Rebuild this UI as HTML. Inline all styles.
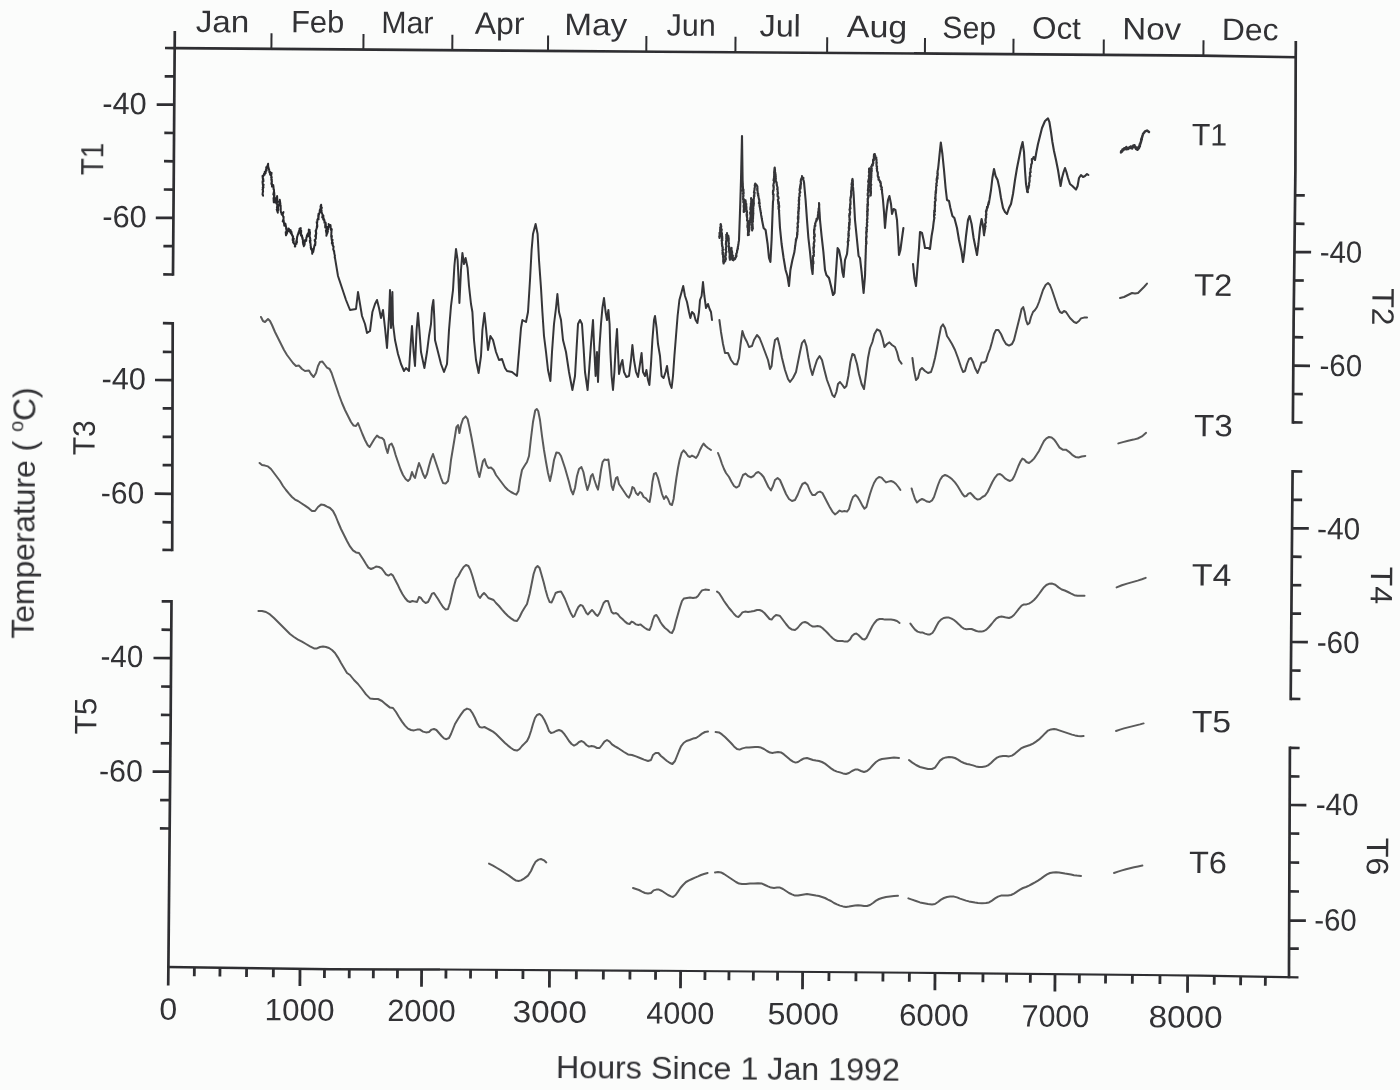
<!DOCTYPE html>
<html lang="en"><head><meta charset="utf-8"><title>Temperature records T1-T6, 1992</title>
<style>
html,body{margin:0;padding:0;background:#fbfcfb;}
body{width:1400px;height:1090px;overflow:hidden;}
svg{display:block;}
svg text{font-family:"Liberation Sans",sans-serif;fill:#333336;}
</style></head>
<body>
<svg width="1400" height="1090" viewBox="0 0 1400 1090">
<rect width="1400" height="1090" fill="#fbfcfb"/>
<defs><filter id="soft" x="-2%" y="-2%" width="104%" height="104%"><feGaussianBlur stdDeviation="0.45"/></filter></defs>
<g filter="url(#soft)">
<g id="axes">
<path d="M165.0 48.0 L175.0 48.1 L540.0 50.9 L940.0 53.6 L1200.0 55.6 L1297.0 57.3" fill="none" stroke="#2e2e30" stroke-width="2.6" stroke-linejoin="miter"/>
<path d="M167.2 967.0 L330.0 969.2 L440.0 969.5" fill="none" stroke="#2e2e30" stroke-width="2.5" stroke-linejoin="miter"/>
<path d="M440.0 969.5 L690.0 971.0 L950.0 973.1 L1200.0 975.6 L1298.5 977.4" fill="none" stroke="#2e2e30" stroke-width="2.1" stroke-linejoin="miter"/>
<path d="M174.8 31.0 L174.7 48.0 L174.6 57.0 L173.8 170.0 L173.0 274.0 L173.0 275.8" fill="none" stroke="#2e2e30" stroke-width="2.7" stroke-linejoin="miter"/>
<path d="M172.7 322.0 L172.7 323.0 L172.7 325.0 L172.5 422.0 L172.4 471.0 L172.2 550.0 L172.2 551.3" fill="none" stroke="#2e2e30" stroke-width="2.7" stroke-linejoin="miter"/>
<path d="M171.5 600.1 L171.5 601.0 L170.8 699.0 L170.6 730.0 L170.4 748.0 L168.4 967.0 L168.3 977.0 L168.2 985.5" fill="none" stroke="#2e2e30" stroke-width="2.7" stroke-linejoin="miter"/>
<path d="M1295.8 41.0 L1295.8 48.0 L1295.7 57.0 L1295.4 170.0 L1294.2 274.0 L1293.6 323.0 L1293.6 325.0 L1292.9 422.0 L1292.9 423.7" fill="none" stroke="#2e2e30" stroke-width="2.7" stroke-linejoin="miter"/>
<path d="M1292.6 470.1 L1292.6 471.0 L1291.9 550.0 L1291.5 601.0 L1290.7 699.0 L1290.7 700.2" fill="none" stroke="#2e2e30" stroke-width="2.7" stroke-linejoin="miter"/>
<path d="M1289.9 746.6 L1289.9 748.0 L1289.0 967.0 L1289.0 977.0 L1289.0 978.2" fill="none" stroke="#2e2e30" stroke-width="2.7" stroke-linejoin="miter"/>
<line x1="271.5" y1="33.3" x2="271.4" y2="48.8" stroke="#2e2e30" stroke-width="2.0"/>
<line x1="363.5" y1="34.0" x2="363.4" y2="49.5" stroke="#2e2e30" stroke-width="2.0"/>
<line x1="452.4" y1="34.7" x2="452.3" y2="50.2" stroke="#2e2e30" stroke-width="2.0"/>
<line x1="548.1" y1="35.5" x2="548.0" y2="51.0" stroke="#2e2e30" stroke-width="2.0"/>
<line x1="646.4" y1="36.1" x2="646.3" y2="51.6" stroke="#2e2e30" stroke-width="2.0"/>
<line x1="735.5" y1="36.7" x2="735.4" y2="52.2" stroke="#2e2e30" stroke-width="2.0"/>
<line x1="827.2" y1="37.3" x2="827.1" y2="52.8" stroke="#2e2e30" stroke-width="2.0"/>
<line x1="925.0" y1="38.0" x2="924.9" y2="53.5" stroke="#2e2e30" stroke-width="2.0"/>
<line x1="1013.5" y1="38.7" x2="1013.4" y2="54.2" stroke="#2e2e30" stroke-width="2.0"/>
<line x1="1103.8" y1="39.4" x2="1103.7" y2="54.9" stroke="#2e2e30" stroke-width="2.0"/>
<line x1="1203.5" y1="40.2" x2="1203.4" y2="55.7" stroke="#2e2e30" stroke-width="2.0"/>
<line x1="194.4" y1="967.4" x2="194.3" y2="976.3" stroke="#2e2e30" stroke-width="2.8"/>
<line x1="220.0" y1="967.7" x2="219.9" y2="976.6" stroke="#2e2e30" stroke-width="2.8"/>
<line x1="246.6" y1="968.1" x2="246.5" y2="977.0" stroke="#2e2e30" stroke-width="2.8"/>
<line x1="273.4" y1="968.4" x2="273.3" y2="977.3" stroke="#2e2e30" stroke-width="2.8"/>
<line x1="324.5" y1="969.1" x2="324.4" y2="978.0" stroke="#2e2e30" stroke-width="2.8"/>
<line x1="349.3" y1="969.3" x2="349.2" y2="978.2" stroke="#2e2e30" stroke-width="2.8"/>
<line x1="373.4" y1="969.3" x2="373.3" y2="978.2" stroke="#2e2e30" stroke-width="2.8"/>
<line x1="397.5" y1="969.4" x2="397.4" y2="978.3" stroke="#2e2e30" stroke-width="2.8"/>
<line x1="446.0" y1="969.5" x2="445.9" y2="978.4" stroke="#2e2e30" stroke-width="2.8"/>
<line x1="470.6" y1="969.7" x2="470.5" y2="978.6" stroke="#2e2e30" stroke-width="2.8"/>
<line x1="496.5" y1="969.8" x2="496.4" y2="978.7" stroke="#2e2e30" stroke-width="2.8"/>
<line x1="523.0" y1="970.0" x2="522.9" y2="978.9" stroke="#2e2e30" stroke-width="2.8"/>
<line x1="576.4" y1="970.3" x2="576.3" y2="979.2" stroke="#2e2e30" stroke-width="2.8"/>
<line x1="603.4" y1="970.5" x2="603.3" y2="979.4" stroke="#2e2e30" stroke-width="2.8"/>
<line x1="630.0" y1="970.6" x2="629.9" y2="979.5" stroke="#2e2e30" stroke-width="2.8"/>
<line x1="655.6" y1="970.8" x2="655.5" y2="979.7" stroke="#2e2e30" stroke-width="2.8"/>
<line x1="705.0" y1="971.1" x2="704.9" y2="980.0" stroke="#2e2e30" stroke-width="2.8"/>
<line x1="729.0" y1="971.3" x2="728.9" y2="980.2" stroke="#2e2e30" stroke-width="2.8"/>
<line x1="753.4" y1="971.5" x2="753.3" y2="980.4" stroke="#2e2e30" stroke-width="2.8"/>
<line x1="777.6" y1="971.7" x2="777.5" y2="980.6" stroke="#2e2e30" stroke-width="2.8"/>
<line x1="829.0" y1="972.1" x2="828.9" y2="981.0" stroke="#2e2e30" stroke-width="2.8"/>
<line x1="856.0" y1="972.3" x2="855.9" y2="981.2" stroke="#2e2e30" stroke-width="2.8"/>
<line x1="883.0" y1="972.6" x2="882.9" y2="981.5" stroke="#2e2e30" stroke-width="2.8"/>
<line x1="909.4" y1="972.8" x2="909.3" y2="981.7" stroke="#2e2e30" stroke-width="2.8"/>
<line x1="959.4" y1="973.2" x2="959.3" y2="982.1" stroke="#2e2e30" stroke-width="2.8"/>
<line x1="983.0" y1="973.4" x2="982.9" y2="982.3" stroke="#2e2e30" stroke-width="2.8"/>
<line x1="1006.6" y1="973.7" x2="1006.5" y2="982.6" stroke="#2e2e30" stroke-width="2.8"/>
<line x1="1030.4" y1="973.9" x2="1030.3" y2="982.8" stroke="#2e2e30" stroke-width="2.8"/>
<line x1="1079.4" y1="974.4" x2="1079.3" y2="983.3" stroke="#2e2e30" stroke-width="2.8"/>
<line x1="1105.6" y1="974.7" x2="1105.5" y2="983.6" stroke="#2e2e30" stroke-width="2.8"/>
<line x1="1132.4" y1="974.9" x2="1132.3" y2="983.8" stroke="#2e2e30" stroke-width="2.8"/>
<line x1="1160.0" y1="975.2" x2="1159.9" y2="984.1" stroke="#2e2e30" stroke-width="2.8"/>
<line x1="1214.3" y1="975.9" x2="1214.2" y2="984.8" stroke="#2e2e30" stroke-width="2.8"/>
<line x1="1240.7" y1="976.4" x2="1240.6" y2="985.3" stroke="#2e2e30" stroke-width="2.8"/>
<line x1="1265.4" y1="976.8" x2="1265.3" y2="985.7" stroke="#2e2e30" stroke-width="2.8"/>
<line x1="300.0" y1="968.8" x2="299.9" y2="986.1" stroke="#2e2e30" stroke-width="2.8"/>
<line x1="421.6" y1="969.4" x2="421.5" y2="986.7" stroke="#2e2e30" stroke-width="2.8"/>
<line x1="549.5" y1="970.2" x2="549.4" y2="987.5" stroke="#2e2e30" stroke-width="2.8"/>
<line x1="680.6" y1="970.9" x2="680.5" y2="988.2" stroke="#2e2e30" stroke-width="2.8"/>
<line x1="802.6" y1="971.9" x2="802.5" y2="989.2" stroke="#2e2e30" stroke-width="2.8"/>
<line x1="935.0" y1="973.0" x2="934.9" y2="990.3" stroke="#2e2e30" stroke-width="2.8"/>
<line x1="1055.0" y1="974.1" x2="1054.9" y2="991.4" stroke="#2e2e30" stroke-width="2.8"/>
<line x1="1187.6" y1="975.5" x2="1187.5" y2="992.8" stroke="#2e2e30" stroke-width="2.8"/>
<line x1="164.7" y1="76.3" x2="174.5" y2="76.4" stroke="#2e2e30" stroke-width="2.7"/>
<line x1="156.7" y1="104.6" x2="174.3" y2="104.7" stroke="#2e2e30" stroke-width="2.7"/>
<line x1="164.3" y1="132.9" x2="174.1" y2="133.0" stroke="#2e2e30" stroke-width="2.7"/>
<line x1="164.0" y1="161.2" x2="173.8" y2="161.3" stroke="#2e2e30" stroke-width="2.7"/>
<line x1="163.8" y1="189.5" x2="173.6" y2="189.6" stroke="#2e2e30" stroke-width="2.7"/>
<line x1="155.8" y1="217.8" x2="173.4" y2="217.9" stroke="#2e2e30" stroke-width="2.7"/>
<line x1="163.4" y1="246.1" x2="173.2" y2="246.2" stroke="#2e2e30" stroke-width="2.7"/>
<line x1="163.2" y1="274.4" x2="173.0" y2="274.5" stroke="#2e2e30" stroke-width="2.7"/>
<line x1="162.9" y1="323.2" x2="172.7" y2="323.3" stroke="#2e2e30" stroke-width="2.7"/>
<line x1="162.8" y1="351.9" x2="172.6" y2="352.0" stroke="#2e2e30" stroke-width="2.7"/>
<line x1="155.0" y1="380.0" x2="172.6" y2="380.1" stroke="#2e2e30" stroke-width="2.7"/>
<line x1="162.7" y1="408.3" x2="172.5" y2="408.4" stroke="#2e2e30" stroke-width="2.7"/>
<line x1="162.6" y1="436.8" x2="172.4" y2="436.9" stroke="#2e2e30" stroke-width="2.7"/>
<line x1="162.6" y1="465.1" x2="172.4" y2="465.2" stroke="#2e2e30" stroke-width="2.7"/>
<line x1="154.7" y1="493.7" x2="172.3" y2="493.8" stroke="#2e2e30" stroke-width="2.7"/>
<line x1="162.5" y1="522.2" x2="172.3" y2="522.3" stroke="#2e2e30" stroke-width="2.7"/>
<line x1="162.4" y1="549.9" x2="172.2" y2="550.0" stroke="#2e2e30" stroke-width="2.7"/>
<line x1="161.7" y1="601.3" x2="171.5" y2="601.4" stroke="#2e2e30" stroke-width="2.7"/>
<line x1="161.5" y1="629.7" x2="171.3" y2="629.8" stroke="#2e2e30" stroke-width="2.7"/>
<line x1="153.5" y1="658.0" x2="171.1" y2="658.2" stroke="#2e2e30" stroke-width="2.7"/>
<line x1="161.1" y1="686.5" x2="170.9" y2="686.6" stroke="#2e2e30" stroke-width="2.7"/>
<line x1="160.9" y1="714.9" x2="170.7" y2="715.0" stroke="#2e2e30" stroke-width="2.7"/>
<line x1="160.7" y1="743.3" x2="170.5" y2="743.3" stroke="#2e2e30" stroke-width="2.7"/>
<line x1="152.6" y1="771.6" x2="170.2" y2="771.7" stroke="#2e2e30" stroke-width="2.7"/>
<line x1="160.1" y1="800.1" x2="169.9" y2="800.1" stroke="#2e2e30" stroke-width="2.7"/>
<line x1="159.9" y1="828.4" x2="169.7" y2="828.5" stroke="#2e2e30" stroke-width="2.7"/>
<line x1="1295.1" y1="195.3" x2="1304.8" y2="195.4" stroke="#2e2e30" stroke-width="2.7"/>
<line x1="1294.8" y1="223.7" x2="1304.5" y2="223.8" stroke="#2e2e30" stroke-width="2.7"/>
<line x1="1294.4" y1="252.1" x2="1311.1" y2="252.2" stroke="#2e2e30" stroke-width="2.7"/>
<line x1="1294.1" y1="280.5" x2="1303.8" y2="280.5" stroke="#2e2e30" stroke-width="2.7"/>
<line x1="1293.8" y1="308.9" x2="1303.5" y2="308.9" stroke="#2e2e30" stroke-width="2.7"/>
<line x1="1293.5" y1="337.2" x2="1303.2" y2="337.3" stroke="#2e2e30" stroke-width="2.7"/>
<line x1="1293.3" y1="365.6" x2="1310.0" y2="365.8" stroke="#2e2e30" stroke-width="2.7"/>
<line x1="1293.1" y1="394.0" x2="1302.8" y2="394.1" stroke="#2e2e30" stroke-width="2.7"/>
<line x1="1292.9" y1="422.4" x2="1302.6" y2="422.5" stroke="#2e2e30" stroke-width="2.7"/>
<line x1="1292.6" y1="471.4" x2="1302.3" y2="471.5" stroke="#2e2e30" stroke-width="2.7"/>
<line x1="1292.4" y1="499.8" x2="1302.1" y2="499.9" stroke="#2e2e30" stroke-width="2.7"/>
<line x1="1292.1" y1="528.3" x2="1308.8" y2="528.4" stroke="#2e2e30" stroke-width="2.7"/>
<line x1="1291.9" y1="556.7" x2="1301.6" y2="556.8" stroke="#2e2e30" stroke-width="2.7"/>
<line x1="1291.6" y1="585.2" x2="1301.3" y2="585.2" stroke="#2e2e30" stroke-width="2.7"/>
<line x1="1291.4" y1="613.6" x2="1301.1" y2="613.7" stroke="#2e2e30" stroke-width="2.7"/>
<line x1="1291.2" y1="642.0" x2="1307.9" y2="642.2" stroke="#2e2e30" stroke-width="2.7"/>
<line x1="1290.9" y1="670.5" x2="1300.6" y2="670.6" stroke="#2e2e30" stroke-width="2.7"/>
<line x1="1290.7" y1="698.9" x2="1300.4" y2="699.0" stroke="#2e2e30" stroke-width="2.7"/>
<line x1="1289.9" y1="747.9" x2="1299.6" y2="748.0" stroke="#2e2e30" stroke-width="2.7"/>
<line x1="1289.8" y1="776.4" x2="1299.5" y2="776.5" stroke="#2e2e30" stroke-width="2.7"/>
<line x1="1289.7" y1="805.0" x2="1306.4" y2="805.1" stroke="#2e2e30" stroke-width="2.7"/>
<line x1="1289.6" y1="833.5" x2="1299.3" y2="833.6" stroke="#2e2e30" stroke-width="2.7"/>
<line x1="1289.5" y1="862.5" x2="1299.2" y2="862.6" stroke="#2e2e30" stroke-width="2.7"/>
<line x1="1289.3" y1="891.4" x2="1299.0" y2="891.5" stroke="#2e2e30" stroke-width="2.7"/>
<line x1="1289.2" y1="920.6" x2="1305.9" y2="920.7" stroke="#2e2e30" stroke-width="2.7"/>
<line x1="1289.1" y1="948.6" x2="1298.8" y2="948.7" stroke="#2e2e30" stroke-width="2.7"/>
<text font-size="31" transform="translate(195.8 32.0) rotate(0.45) scale(1.069 1)">Jan</text>
<text font-size="31" transform="translate(290.9 32.3) rotate(0.45) scale(0.998 1)">Feb</text>
<text font-size="31" transform="translate(381.3 33.0) rotate(0.45) scale(0.977 1)">Mar</text>
<text font-size="31" transform="translate(474.8 33.8) rotate(0.45) scale(1.030 1)">Apr</text>
<text font-size="31" transform="translate(564.3 35.0) rotate(0.45) scale(1.072 1)">May</text>
<text font-size="31" transform="translate(666.5 35.6) rotate(0.45) scale(0.985 1)">Jun</text>
<text font-size="31" transform="translate(759.5 36.3) rotate(0.45) scale(1.042 1)">Jul</text>
<text font-size="31" transform="translate(846.8 37.0) rotate(0.45) scale(1.094 1)">Aug</text>
<text font-size="31" transform="translate(942.3 38.0) rotate(0.45) scale(0.974 1)">Sep</text>
<text font-size="31" transform="translate(1032.0 38.6) rotate(0.45) scale(1.012 1)">Oct</text>
<text font-size="31" transform="translate(1122.3 39.3) rotate(0.45) scale(1.066 1)">Nov</text>
<text font-size="31" transform="translate(1221.7 40.0) rotate(0.45) scale(1.028 1)">Dec</text>
<text font-size="31" transform="translate(159.2 1019.8) rotate(0.45) scale(1.036 1)">0</text>
<text font-size="31" transform="translate(264.6 1020.3) rotate(0.45) scale(1.013 1)">1000</text>
<text font-size="31" transform="translate(387.2 1021.0) rotate(0.45) scale(0.993 1)">2000</text>
<text font-size="31" transform="translate(512.4 1022.2) rotate(0.45) scale(1.079 1)">3000</text>
<text font-size="31" transform="translate(646.2 1023.5) rotate(0.45) scale(0.986 1)">4000</text>
<text font-size="31" transform="translate(767.5 1024.3) rotate(0.45) scale(1.034 1)">5000</text>
<text font-size="31" transform="translate(898.9 1025.5) rotate(0.45) scale(1.012 1)">6000</text>
<text font-size="31" transform="translate(1021.5 1026.5) rotate(0.45) scale(0.982 1)">7000</text>
<text font-size="31" transform="translate(1148.5 1027.3) rotate(0.45) scale(1.074 1)">8000</text>
<text font-size="31" transform="translate(555.9 1078.0) rotate(0.45) scale(1.040 1)">Hours Since 1 Jan 1992</text>
<text font-size="31" transform="translate(102.2 114.0) rotate(0.45) scale(0.991 1)">-40</text>
<text font-size="31" transform="translate(102.2 227.1) rotate(0.45) scale(0.991 1)">-60</text>
<text font-size="31" transform="translate(101.5 389.2) rotate(0.45) scale(0.989 1)">-40</text>
<text font-size="31" transform="translate(100.8 503.3) rotate(0.45) scale(0.968 1)">-60</text>
<text font-size="31" transform="translate(100.5 666.8) rotate(0.45) scale(0.954 1)">-40</text>
<text font-size="31" transform="translate(99.0 781.3) rotate(0.45) scale(0.977 1)">-60</text>
<text font-size="31" transform="translate(1319.7 262.6) rotate(0.45) scale(0.949 1)">-40</text>
<text font-size="31" transform="translate(1319.5 376.0) rotate(0.45) scale(0.949 1)">-60</text>
<text font-size="31" transform="translate(1317.0 539.2) rotate(0.45) scale(0.965 1)">-40</text>
<text font-size="31" transform="translate(1316.7 652.8) rotate(0.45) scale(0.958 1)">-60</text>
<text font-size="31" transform="translate(1315.7 815.0) rotate(0.45) scale(0.958 1)">-40</text>
<text font-size="31" transform="translate(1314.2 930.5) rotate(0.45) scale(0.949 1)">-60</text>
<text font-size="31" transform="translate(103.1 175.3) rotate(-89.55) scale(0.897 1)">T1</text>
<text font-size="31" transform="translate(94.6 455.3) rotate(-89.55) scale(0.966 1)">T3</text>
<text font-size="31" transform="translate(96.2 734.5) rotate(-89.55) scale(1.018 1)">T5</text>
<text font-size="31" transform="translate(1372.4 287.9) rotate(90.45) scale(1.042 1)">T2</text>
<text font-size="31" transform="translate(1371.0 566.6) rotate(90.45) scale(1.035 1)">T4</text>
<text font-size="31" transform="translate(1366.9 837.5) rotate(90.45) scale(1.049 1)">T6</text>
<text font-size="32" letter-spacing="-0.1" transform="translate(33.6 638.8) rotate(-89.55)">Temperature ( <tspan font-size="20" dy="-12">o</tspan><tspan dy="12">C)</tspan></text>
<text font-size="31" transform="translate(1191.7 145.3) rotate(0.45) scale(0.977 1)">T1</text>
<text font-size="31" transform="translate(1194.0 295.6) rotate(0.45) scale(1.057 1)">T2</text>
<text font-size="31" transform="translate(1194.0 436.2) rotate(0.45) scale(1.069 1)">T3</text>
<text font-size="31" transform="translate(1191.7 585.6) rotate(0.45) scale(1.093 1)">T4</text>
<text font-size="31" transform="translate(1191.7 732.2) rotate(0.45) scale(1.085 1)">T5</text>
<text font-size="31" transform="translate(1189.0 873.0) rotate(0.45) scale(1.043 1)">T6</text>
</g>
<g id="curves">
<path d="M263.1 195.7 L262.6 193.8 L262.5 194.7 L262.9 191.3 L263.1 191.9 L263.0 189.7 L262.5 189.7 L263.6 187.1 L262.7 187.5 L263.7 184.7 L263.0 185.9 L262.5 182.1 L262.8 184.0 L262.6 180.9 L263.5 181.2 L263.2 178.6 L262.9 179.4 L262.5 176.0 L263.2 176.6 L264.0 173.8 L264.6 174.8 L264.7 171.9 L265.6 173.2 L265.8 170.0 L266.6 170.7 L266.2 167.3 L266.3 169.1 L267.5 165.5 L267.5 166.0 L268.1 163.8 L268.2 166.7 L268.0 165.0 L268.6 168.8 L268.5 167.5 L269.4 171.1 L269.2 169.7 L269.4 172.4 L270.0 171.7 L270.1 174.7 L271.6 172.7 L271.3 175.2 L270.9 175.1 L271.8 177.3 L271.1 177.3 L271.9 179.9 L271.3 179.5 L271.9 182.2 L271.9 180.8 L271.3 184.0 L271.9 183.4 L272.0 186.6 L273.2 185.0 L273.6 187.5 L273.4 186.7 L273.6 189.4 L273.9 189.1 L274.1 192.6 L274.0 191.1 L273.3 194.5 L274.3 192.8 L274.4 196.8 L273.9 195.5 L274.3 198.1 L273.5 198.1 L273.7 200.4 L273.6 199.9 L273.8 202.3 L274.1 202.3 L275.3 202.4 L274.7 199.8 L275.5 200.8 L275.6 198.2 L277.3 199.5 L277.1 196.1 L276.6 198.8 L276.8 198.4 L276.6 201.8 L277.7 201.0 L276.6 203.7 L276.4 202.6 L277.8 205.9 L277.4 204.4 L276.9 207.8 L277.5 207.4 L277.5 210.3 L276.7 209.5 L277.8 212.8 L277.8 208.8 L278.1 210.6 L278.1 207.3 L277.7 207.8 L278.4 205.4 L279.3 205.5 L279.3 202.1 L280.4 204.0 L279.8 199.8 L279.7 203.3 L279.7 203.0 L280.8 206.0 L280.3 204.6 L280.8 208.4 L280.6 207.7 L280.9 211.0 L280.5 209.3 L281.0 212.4 L281.1 212.1 L281.7 214.5 L283.5 212.0 L282.5 215.3 L282.6 214.6 L283.5 217.8 L283.6 216.8 L283.5 220.2 L283.4 218.9 L282.7 221.5 L283.7 220.4 L284.1 224.2 L284.1 223.3 L284.3 225.7 L285.4 223.6 L285.9 226.1 L285.7 225.8 L286.5 228.2 L286.0 227.9 L286.6 231.0 L286.7 230.0 L286.3 233.1 L285.7 232.1 L286.0 235.3 L287.2 232.9 L287.1 233.1 L287.6 230.2 L287.9 231.3 L288.6 228.5 L288.7 229.2 L288.9 228.7 L289.7 231.7 L290.6 230.1 L290.8 233.5 L291.4 231.7 L292.0 235.1 L292.0 234.2 L292.9 237.3 L293.1 236.2 L292.6 240.1 L293.8 238.6 L293.0 242.3 L293.7 241.3 L293.7 243.6 L294.6 243.6 L295.2 246.6 L295.3 245.8 L294.8 246.5 L296.2 242.7 L296.5 243.8 L296.2 241.0 L297.0 242.4 L296.7 239.1 L296.9 239.7 L297.1 236.8 L297.0 237.8 L297.9 234.3 L298.0 234.8 L298.6 232.1 L299.5 232.7 L299.8 229.7 L299.1 230.6 L300.1 228.5 L299.5 228.7 L300.8 228.1 L300.1 231.5 L301.2 230.6 L301.1 233.5 L300.4 232.9 L301.1 235.8 L302.0 235.2 L302.1 238.0 L302.5 237.4 L302.9 239.6 L302.5 239.2 L303.6 242.4 L302.8 241.6 L303.3 244.5 L303.5 244.0 L303.9 246.2 L304.3 243.9 L304.6 245.0 L304.8 241.6 L304.8 242.5 L305.1 239.9 L306.2 240.9 L306.4 237.9 L306.2 239.1 L307.0 235.1 L307.8 236.5 L307.7 233.6 L308.7 234.7 L308.8 231.5 L308.8 232.6 L308.8 229.4 L308.8 229.8 L309.7 229.9 L309.0 232.3 L310.0 232.0 L309.8 235.2 L309.3 234.0 L309.6 236.7 L309.7 236.4 L310.4 238.9 L309.9 237.6 L310.6 241.0 L309.8 240.6 L310.1 242.9 L310.4 242.5 L310.7 245.2 L310.5 245.1 L311.0 247.2 L310.7 247.2 L311.2 249.5 L311.8 248.6 L312.2 252.1 L312.7 250.6 L312.2 253.8 L312.2 250.2 L313.2 252.0 L313.7 249.1 L313.7 249.9 L314.3 246.0 L314.2 246.9 L314.9 244.1 L315.2 245.4 L315.5 241.8 L315.4 243.1 L314.6 240.0 L315.2 240.2 L316.0 237.9 L315.8 238.5 L316.0 235.2 L315.2 236.3 L316.3 232.8 L316.2 234.1 L315.6 230.7 L316.0 232.2 L316.2 229.2 L316.2 230.0 L317.4 226.3 L316.7 227.5 L317.2 224.4 L317.3 225.6 L316.7 222.1 L317.2 222.9 L317.4 219.9 L317.2 221.3 L317.8 218.6 L318.6 219.3 L318.2 215.8 L318.7 217.1 L318.4 214.0 L318.7 215.4 L319.9 211.3 L319.5 212.3 L320.4 209.2 L319.7 210.5 L320.9 207.7 L320.6 208.0 L320.8 205.5 L320.5 206.6 L321.1 204.7 L321.5 208.7 L321.9 207.6 L320.8 210.5 L321.6 210.2 L321.5 212.7 L321.7 212.3 L322.5 214.8 L322.7 214.5 L322.2 217.4 L323.4 215.5 L323.2 219.5 L323.7 218.1 L324.4 221.6 L324.5 220.1 L324.4 222.8 L325.6 222.5 L325.9 225.0 L325.2 224.5 L325.2 227.4 L326.5 226.5 L326.4 230.0 L326.7 228.4 L326.4 232.2 L325.9 230.5 L326.6 234.1 L327.0 232.6 L326.4 235.8 L326.7 232.4 L327.2 233.8 L328.0 230.9 L327.6 232.1 L327.8 228.2 L328.2 229.4 L328.1 226.6 L329.3 226.8 L328.6 224.0 L330.7 227.0 L330.5 225.0 L330.5 227.8 L330.6 227.3 L330.9 229.9 L331.8 229.2 L331.3 232.6 L331.5 231.6 L331.3 234.4 L331.3 234.1 L331.2 237.1 L331.9 235.8 L331.5 239.1 L331.6 238.3 L331.9 240.8 L332.6 239.8 L331.8 243.3 L332.8 242.8 L332.7 245.4 L332.4 244.5 L333.5 247.0 L333.6 246.5 L333.2 249.5 L333.3 249.2 L333.9 251.2 L334.1 250.8 L334.3 253.4 L334.3 253.2 L334.7 255.1 L334.9 255.5 L334.7 257.5 L334.9 257.7" fill="none" stroke="#2b2b2e" stroke-width="2.0" stroke-linejoin="round" stroke-linecap="round"/>
<path d="M335.0 258.0 L338.0 276.0 L342.0 288.0 L346.0 300.0 L350.0 310.0 L356.0 309.0 L358.0 292.0 L360.0 304.0 L362.0 316.0 L365.0 324.0 L367.0 333.0 L370.0 331.0 L372.4 312.0 L375.0 304.0 L377.0 300.0 L379.0 308.0 L381.0 318.0 L383.0 310.0 L385.0 328.0 L387.0 348.0 L389.0 316.0 L390.0 290.0 L391.0 328.0 L392.4 292.0 L393.0 324.0 L395.0 340.0 L398.0 354.0 L401.0 364.0 L404.0 371.0 L406.0 368.0 L409.0 371.0 L410.4 348.0 L412.0 326.0 L413.6 352.0 L415.0 366.0 L416.6 330.0 L418.0 313.0 L419.4 330.0 L421.0 352.0 L424.4 368.0 L427.0 352.0 L429.0 336.0 L431.0 324.0 L432.0 308.0 L433.4 300.0 L434.4 320.0 L435.0 340.0 L438.0 352.0 L441.0 364.0 L444.0 372.0 L447.0 364.0 L449.0 330.0 L451.0 306.0 L453.0 290.0 L454.4 266.0 L456.0 249.0 L457.6 260.0 L458.4 276.0 L459.4 303.0 L461.0 270.0 L462.4 253.0 L464.0 264.0 L465.6 258.0 L467.6 268.0 L469.0 286.0 L471.0 304.0 L472.4 312.0 L474.0 340.0 L476.0 360.0 L478.6 373.0 L481.0 356.0 L482.4 330.0 L484.4 313.0 L486.0 328.0 L488.0 350.0 L490.4 336.0 L493.0 340.0 L496.0 352.0 L499.0 360.0 L502.0 359.0 L505.0 368.0 L507.0 371.0 L512.0 372.0 L517.0 376.0 L519.0 352.0 L521.0 328.0 L522.4 320.0 L526.0 322.0 L528.0 312.0 L530.0 280.0 L531.6 250.0 L533.0 234.0 L535.6 224.0 L537.6 234.0 L539.0 260.0 L541.0 288.0 L542.4 312.0 L544.0 336.0 L546.0 352.0 L548.0 370.0 L550.4 381.0 L552.0 352.0 L554.0 324.0 L556.0 308.0 L557.4 294.0 L559.0 312.0 L561.0 320.0 L563.0 340.0 L566.0 352.0 L569.0 372.0 L572.4 390.0 L575.0 376.0 L576.6 348.0 L578.0 324.0 L580.0 320.0 L582.0 324.0 L583.6 348.0 L585.0 372.0 L587.6 390.0 L589.0 372.0 L591.0 344.0 L593.0 320.0 L594.0 344.0 L595.6 376.0 L597.0 352.0 L598.0 382.0 L599.4 348.0 L601.0 324.0 L602.4 308.0 L604.0 298.0 L605.6 312.0 L607.0 320.0 L608.4 310.0 L609.6 324.0 L610.4 352.0 L611.6 376.0 L613.0 390.0 L614.4 372.0 L615.6 348.0 L617.0 329.0 L618.0 352.0 L619.0 374.0 L621.0 364.0 L622.4 360.0 L624.0 372.0 L626.4 377.0 L629.0 376.0 L631.0 360.0 L632.4 345.0 L634.0 360.0 L636.0 372.0 L638.0 377.0 L640.0 364.0 L641.6 353.0 L643.0 372.0 L645.0 376.0 L646.4 370.0 L648.0 380.0 L649.4 385.0 L651.0 364.0 L652.4 340.0 L654.0 320.0 L655.0 316.0 L656.6 328.0 L658.0 344.0 L660.0 356.0 L661.6 376.0 L663.6 378.0 L665.6 372.0 L667.0 366.0 L668.4 376.0 L670.0 384.0 L671.6 388.0 L673.0 376.0 L674.4 356.0 L676.0 336.0 L677.6 316.0 L679.4 300.0 L681.6 292.0 L683.2 286.0 L685.0 296.0 L687.0 302.0 L689.0 312.0 L690.4 318.0 L692.0 312.0 L694.0 314.0 L695.6 320.0 L697.4 323.0 L699.0 312.0 L700.0 300.0 L701.6 296.0 L703.0 282.0 L704.4 296.0 L706.0 308.0 L708.0 304.0 L709.6 309.0 L711.0 312.0 L712.0 320.0" fill="none" stroke="#363639" stroke-width="2.0" stroke-linejoin="round" stroke-linecap="round"/>
<path d="M719.4 238.0 L719.7 236.3 L719.2 236.6 L719.8 234.7 L719.6 235.1 L719.5 232.9 L720.0 233.3 L720.2 230.9 L720.2 232.0 L720.1 229.6 L720.6 230.3 L720.1 227.8 L720.8 228.2 L720.5 226.0 L721.2 226.6 L720.5 224.4 L720.9 224.6 L720.8 224.1 L721.3 226.7 L720.9 226.0 L721.1 228.6 L721.0 227.5 L721.6 229.8 L721.8 229.7 L721.2 231.8 L721.4 231.5 L722.0 233.7 L721.5 233.4 L722.1 235.1 L721.3 235.1 L721.7 236.8 L722.2 236.4 L722.3 239.1 L721.8 238.1 L722.4 240.4 L721.6 240.0 L722.0 242.6 L722.0 242.1 L721.8 244.0 L722.2 243.9 L722.0 246.3 L722.2 245.2 L722.8 247.6 L722.5 247.0 L722.6 249.2 L723.1 249.2 L722.6 251.1 L722.4 250.5 L723.1 253.0 L722.5 252.4 L722.6 254.5 L722.8 254.0 L723.5 256.8 L723.0 256.3 L723.3 258.7 L723.5 258.1 L723.2 260.0 L723.6 260.0 L723.6 262.2 L723.1 261.1 L723.6 263.5 L724.5 261.2 L724.4 262.1 L725.1 260.1 L725.3 261.0 L725.8 258.2 L725.9 259.1 L725.5 256.6 L725.6 257.0 L725.4 254.6 L726.0 255.1 L725.4 253.2 L725.9 253.2 L726.3 251.4 L726.4 252.0 L725.6 249.6 L726.0 249.6 L726.0 247.5 L726.0 247.9 L726.3 245.8 L726.5 246.5 L725.8 244.0 L726.0 244.8 L726.1 242.2 L726.0 242.9 L726.1 240.7 L726.7 240.7 L726.2 238.6 L726.9 239.1 L726.2 236.9 L726.6 237.6 L726.2 234.7 L726.9 235.6 L727.0 233.1 L727.0 235.0 L727.5 234.9 L728.5 237.0 L728.3 235.9 L728.5 238.7 L728.8 238.2 L728.3 240.6 L728.8 239.7 L728.6 241.8 L728.5 241.8 L729.0 243.6 L728.7 243.2 L728.8 245.2 L728.8 245.0 L728.8 247.2 L729.2 246.7 L728.9 248.8 L729.3 248.7 L729.0 251.0 L729.6 250.7 L729.3 252.6 L729.9 252.4 L729.6 254.3 L729.6 254.1 L730.2 256.5 L729.5 255.9 L729.6 258.2 L730.2 257.9 L730.2 259.7 L730.3 259.4 L729.8 259.7 L730.3 257.8 L730.7 258.0 L730.5 255.9 L730.5 256.0 L730.5 254.1 L731.1 254.2 L730.9 252.2 L731.4 252.6 L730.7 250.3 L731.6 250.9 L730.9 248.3 L731.3 249.0 L731.6 247.9 L731.3 250.8 L731.5 249.9 L732.2 252.3 L731.7 251.7 L732.0 254.0 L732.2 253.8 L732.2 255.8 L732.9 255.5 L732.7 257.6 L732.3 257.3 L732.5 260.0 L733.0 259.3 L733.5 260.3 L734.4 258.4 L735.1 259.1 L735.5 257.4 L735.9 257.4 L735.8 255.6 L736.5 256.2 L736.2 253.8 L736.4 254.2 L736.9 252.3 L737.1 252.1 L737.0 250.2 L737.2 250.8 L738.0 248.2 L737.5 248.9 L737.9 246.6 L738.1 246.4 L738.2 245.5 L738.4 244.5 L738.5 243.6 L738.6 242.7 L738.7 241.8 L738.9 240.9 L739.0 240.0 L740.0 212.0 L741.0 180.0 L742.0 136.0 L742.6 180.0 L742.6 180.9 L742.7 181.8 L742.7 182.7 L742.8 183.6 L742.8 184.4 L742.8 185.3 L742.9 186.2 L742.9 187.1 L743.0 188.0 L743.0 188.9 L742.7 190.8 L743.5 189.7 L743.4 192.4 L743.6 192.0 L743.6 194.0 L742.9 193.2 L743.6 196.0 L743.2 195.7 L743.0 197.8 L743.2 196.8 L743.1 199.6 L743.8 198.9 L743.3 200.9 L743.4 200.7 L743.3 202.5 L744.0 202.7 L744.0 204.8 L743.9 204.5 L743.8 206.2 L743.6 205.9 L743.9 208.5 L744.2 207.7 L744.3 209.7 L743.8 209.4 L743.7 212.0 L744.1 211.0 L744.4 211.6 L744.0 209.5 L744.0 210.1 L744.3 207.4 L745.1 208.2 L744.9 205.7 L744.4 206.1 L744.7 204.3 L745.0 204.5 L745.6 202.1 L745.1 202.2 L745.0 200.1 L745.5 200.3 L745.5 200.5 L745.8 202.2 L745.6 201.9 L745.9 204.3 L746.4 204.0 L745.8 205.8 L746.3 205.9 L746.5 208.1 L746.1 207.4 L746.5 209.2 L746.3 209.1 L746.5 211.5 L746.8 210.6 L747.1 212.9 L746.8 213.0 L746.6 214.8 L747.2 214.8 L747.0 216.3 L746.7 215.9 L747.2 218.3 L747.3 218.0 L747.0 220.5 L747.2 220.0 L747.8 221.8 L747.7 221.4 L747.8 223.5 L747.6 223.3 L747.6 225.9 L747.4 225.5 L747.4 227.3 L748.1 227.2 L748.2 229.5 L747.8 228.7 L748.0 231.2 L748.2 230.5 L748.3 232.8 L748.0 232.2 L747.9 235.1 L748.2 234.5 L748.9 235.0 L748.4 232.4 L748.5 233.3 L749.1 231.0 L749.0 231.4 L749.4 228.9 L749.4 229.5 L749.5 227.1 L749.4 227.7 L749.2 225.4 L749.5 225.8 L749.9 224.1 L749.2 223.9 L750.1 222.3 L749.5 222.3 L749.5 220.6 L750.1 220.8 L750.3 218.3 L750.2 218.5 L750.5 216.7 L750.6 217.2 L750.6 215.1 L750.7 215.5 L750.1 213.2 L750.0 213.1 L750.8 210.8 L750.9 211.6 L750.5 209.1 L750.3 209.4 L750.5 207.2 L750.7 207.7 L750.7 205.9 L751.1 205.8 L750.8 203.8 L751.1 204.5 L751.2 201.6 L751.1 202.0 L751.5 200.1 L751.5 200.4 L751.1 198.2 L751.0 198.9 L751.1 198.0 L751.2 200.1 L751.9 199.8 L751.5 201.9 L751.8 201.8 L751.6 203.8 L751.9 203.7 L752.0 205.6 L751.4 205.5 L751.7 207.7 L751.8 207.4 L752.0 209.0 L752.0 208.7 L751.7 211.2 L751.7 210.7 L751.5 213.2 L751.4 212.1 L751.7 214.5 L751.9 213.9 L752.3 216.4 L751.9 216.2 L752.2 218.3 L752.2 217.6 L751.9 219.9 L752.4 219.8 L752.3 221.9 L752.1 221.6 L752.2 223.8 L752.2 223.4 L752.0 225.6 L752.1 225.1 L752.6 227.3 L752.0 226.9 L752.2 228.7 L752.1 228.4 L752.1 230.5 L752.6 228.1 L752.9 228.6 L752.4 226.9 L752.8 227.4 L752.5 224.6 L752.7 225.0 L752.4 223.3 L752.3 223.3 L753.0 221.2 L752.8 221.7 L752.8 219.2 L752.9 219.5 L753.1 217.6 L752.8 218.3 L753.2 215.6 L752.7 216.1 L753.4 213.7 L753.2 214.5 L753.3 211.8 L753.1 212.6 L753.3 210.4 L753.1 210.4 L753.4 208.2 L753.0 209.0 L753.3 206.7 L753.3 207.1 L753.8 204.6 L753.6 205.0 L753.4 202.8 L753.9 203.4 L753.6 201.5 L753.8 201.3 L753.6 199.0 L753.7 199.5 L754.0 197.5 L754.0 198.0 L753.9 195.5 L754.4 196.2 L754.2 194.2 L754.4 194.4 L754.7 192.5 L753.9 192.6 L754.3 190.6 L754.4 190.5 L754.7 188.7 L754.4 189.0 L754.9 187.1 L754.8 187.7 L755.1 185.3 L754.7 185.5 L755.2 183.6 L755.8 185.6 L756.4 184.7 L757.4 186.5 L757.3 186.3 L757.5 188.7 L757.2 188.1 L757.2 190.3 L757.5 189.6 L757.6 192.4 L757.7 191.8 L757.7 193.9 L758.3 193.9 L758.0 195.6 L758.4 195.5 L758.6 197.5 L758.5 197.1 L759.1 199.8 L759.2 199.3 L759.3 201.6 L759.4 201.1 L758.8 203.2 L759.8 203.1 L759.3 205.1 L759.3 204.9 L760.0 206.6 L759.6 206.5 L760.3 209.0 L760.1 208.9 L760.3 209.7 L760.4 210.6 L760.6 211.4 L760.7 212.3 L760.9 213.1 L761.0 214.0 L761.1 214.9 L761.3 215.7 L761.4 216.6 L761.6 217.4 L761.7 218.3 L761.9 219.1 L762.0 220.0 L763.6 228.0 L765.6 230.0 L767.6 244.0 L769.0 258.0 L770.4 262.0 L771.6 240.0 L772.6 212.0 L772.6 211.1 L772.7 210.2 L772.7 209.3 L772.7 208.4 L772.8 207.5 L772.8 206.6 L772.8 205.7 L772.9 204.8 L772.9 203.9 L772.9 203.0 L773.0 202.1 L773.0 201.2 L773.4 199.8 L773.3 200.1 L773.4 197.7 L773.4 198.4 L773.3 196.2 L773.4 196.4 L773.6 194.2 L773.0 194.7 L773.0 192.6 L772.9 192.8 L773.0 190.6 L773.4 191.0 L773.7 188.7 L773.7 188.8 L773.5 187.0 L773.8 187.5 L773.5 185.2 L773.2 185.9 L773.7 183.2 L773.8 183.4 L774.1 181.4 L774.2 181.9 L773.8 179.8 L773.5 180.5 L774.0 177.8 L774.3 178.3 L774.0 176.3 L774.3 176.7 L774.1 174.7 L774.3 174.8 L774.1 172.4 L774.2 173.4 L774.2 170.9 L774.9 171.3 L774.8 169.0 L774.4 169.4 L774.7 167.5 L775.0 169.7 L775.0 169.5 L775.0 171.7 L774.9 171.4 L774.9 172.9 L775.3 172.5 L775.6 175.3 L775.6 174.4 L775.7 177.1 L775.8 176.4 L775.5 179.0 L775.9 178.3 L775.6 180.9 L775.7 180.5 L776.7 182.7 L776.3 181.9 L776.9 184.5 L776.6 183.7 L776.9 185.9 L777.0 185.7 L777.6 187.9 L777.5 187.7 L777.1 189.2 L777.6 188.9 L777.6 191.7 L777.6 191.2 L778.1 193.2 L777.8 192.3 L777.5 194.8 L777.7 194.3 L777.6 196.4 L778.2 196.6 L778.6 198.2 L778.5 198.3 L777.8 200.0 L778.1 199.6 L778.1 202.2 L778.7 201.9 L778.9 203.9 L778.2 203.2 L778.8 205.7 L779.1 205.1 L779.2 207.2 L778.4 206.7 L779.0 208.8 L778.5 208.4 L779.2 210.8 L779.0 211.1 L779.1 212.0 L779.1 212.9 L779.2 213.8 L779.2 214.7 L779.3 215.6 L779.3 216.4 L779.4 217.3 L779.4 218.2 L779.5 219.1 L779.5 220.0 L779.6 220.9 L779.6 221.8 L779.7 222.7 L779.7 223.6 L779.8 224.4 L779.8 225.3 L779.9 226.2 L779.9 227.1 L780.0 228.0 L781.6 244.0 L783.6 258.0 L785.6 270.0 L787.4 276.0 L789.0 286.0 L790.4 270.0 L792.4 260.0 L794.4 252.0 L794.5 251.1 L794.6 250.2 L794.8 249.2 L794.9 248.3 L795.0 247.4 L795.1 246.5 L795.3 245.5 L795.4 244.6 L795.5 243.7 L795.6 242.8 L795.8 241.8 L795.9 240.9 L796.3 239.6 L795.8 239.9 L796.5 237.8 L796.8 238.2 L797.1 236.4 L797.1 236.6 L797.0 234.3 L797.4 234.8 L797.4 232.3 L797.0 233.2 L797.7 231.2 L797.6 231.5 L797.5 229.2 L797.7 229.9 L797.3 227.2 L797.9 227.7 L797.8 225.6 L798.0 226.1 L797.5 223.5 L797.6 223.9 L797.9 222.0 L798.2 222.7 L798.2 220.6 L798.3 220.9 L797.8 218.4 L798.4 219.2 L798.5 216.5 L797.8 217.0 L798.5 214.8 L798.5 215.1 L798.1 212.8 L798.6 213.6 L798.2 211.4 L798.7 211.6 L798.5 209.3 L798.9 209.7 L798.4 207.6 L799.1 208.3 L798.8 205.7 L798.9 206.4 L798.6 204.4 L799.1 204.4 L799.0 202.5 L799.1 202.8 L798.7 200.9 L799.0 201.5 L799.3 199.2 L798.9 199.6 L799.2 197.0 L798.9 197.6 L799.8 195.7 L799.5 196.1 L799.4 193.5 L799.6 194.2 L800.0 191.4 L800.3 192.5 L799.5 190.2 L799.7 190.2 L799.7 188.5 L800.5 188.7 L800.7 186.5 L800.0 187.2 L800.4 184.6 L801.0 184.8 L800.7 183.1 L801.1 183.4 L800.7 181.0 L800.6 181.5 L801.4 179.0 L800.9 179.7 L801.6 178.0 L802.4 178.7 L802.0 176.1 L802.9 178.7 L803.4 177.9 L803.2 179.5 L803.5 180.3 L803.7 181.2 L804.0 182.0 L805.6 200.0 L807.0 220.0 L808.4 238.0 L810.0 252.0 L811.6 268.0 L812.6 274.0 L812.6 273.1 L812.7 272.2 L812.7 271.2 L812.8 270.3 L812.8 269.4 L812.9 268.5 L812.9 267.6 L812.9 266.7 L813.0 265.8 L812.7 265.2 L813.5 263.1 L812.9 263.8 L813.4 261.3 L813.0 261.5 L812.9 259.8 L813.0 260.0 L813.0 257.9 L812.9 258.3 L813.1 255.7 L813.8 256.0 L813.9 254.3 L813.9 254.8 L813.5 252.5 L814.0 252.4 L813.8 250.2 L813.5 250.9 L813.7 248.4 L813.4 249.2 L813.4 247.1 L813.9 247.5 L814.2 245.4 L813.8 245.4 L813.7 243.6 L813.8 244.0 L814.0 241.8 L814.4 241.9 L814.5 240.1 L814.5 239.9 L813.9 237.9 L814.0 238.4 L814.0 236.4 L814.7 236.6 L814.7 234.1 L814.2 234.6 L814.0 232.4 L814.2 233.3 L814.0 230.5 L814.3 231.6 L814.1 229.4 L814.6 229.8 L814.5 227.6 L814.5 228.1 L814.7 225.5 L815.4 225.8 L815.1 223.6 L815.2 223.9 L815.8 221.9 L815.7 222.3 L816.4 220.1 L816.5 220.9 L816.5 218.9 L817.4 219.5 L817.6 217.2 L817.9 218.0 L818.5 215.3 L817.8 216.0 L818.2 213.5 L818.1 214.6 L818.7 212.3 L818.1 212.5 L818.6 210.4 L818.6 210.4 L818.6 208.6 L818.9 208.8 L819.1 206.6 L819.0 207.2 L819.1 205.2 L819.3 205.2 L819.0 203.0 L819.1 204.9 L819.1 205.8 L819.2 206.7 L819.2 207.6 L819.3 208.4 L819.3 209.3 L819.4 210.2 L819.4 211.1 L819.5 212.0 L819.6 212.9 L819.6 213.8 L819.7 214.7 L819.7 215.6 L819.8 216.4 L819.8 217.3 L819.9 218.2 L819.9 219.1 L820.0 220.0 L821.6 236.0 L823.4 252.0 L825.0 270.0 L826.4 275.0 L829.0 278.0 L831.0 286.0 L833.0 295.0 L834.6 293.0 L836.0 272.0 L837.6 248.0 L839.0 250.0 L841.0 260.0 L842.4 272.0 L843.6 277.0 L845.0 260.0 L847.0 254.0 L847.1 253.1 L847.2 252.2 L847.3 251.4 L847.4 250.5 L847.4 249.6 L847.5 248.8 L847.6 247.9 L847.7 247.0 L847.8 246.1 L847.9 245.2 L848.0 244.4 L848.1 244.2 L847.7 241.9 L848.0 242.8 L848.0 240.4 L848.7 240.5 L848.1 238.8 L848.2 239.0 L848.6 237.0 L848.6 237.2 L848.3 234.7 L848.9 235.6 L848.4 233.4 L848.8 233.6 L848.5 231.5 L848.5 231.7 L849.2 229.5 L849.0 229.7 L848.7 227.6 L849.4 228.5 L849.0 226.1 L849.1 226.7 L849.6 224.3 L849.1 224.9 L849.1 222.6 L849.7 222.8 L849.7 220.4 L849.7 221.4 L849.4 219.2 L849.9 219.7 L849.4 217.3 L849.4 217.7 L849.2 215.3 L849.7 215.7 L849.4 213.9 L850.0 214.3 L850.0 211.3 L850.2 212.3 L849.5 209.5 L849.8 210.4 L849.9 207.9 L850.5 208.5 L850.0 206.1 L850.2 206.6 L850.1 204.0 L850.5 204.6 L850.5 202.8 L850.5 203.3 L850.5 200.8 L850.3 201.1 L850.3 199.1 L850.6 199.1 L850.5 197.2 L850.9 197.1 L851.0 194.9 L851.1 195.6 L851.2 193.5 L851.1 193.8 L851.1 191.5 L851.0 191.9 L851.3 190.0 L851.5 190.2 L851.4 188.4 L851.3 188.8 L851.7 186.2 L852.2 186.6 L852.1 184.7 L851.5 184.7 L851.9 182.5 L852.0 182.9 L852.4 181.0 L852.0 181.1 L852.5 178.9 L852.3 179.4 L852.6 179.3 L852.9 181.5 L852.6 180.7 L852.9 183.4 L852.7 182.5 L853.0 185.2 L852.6 184.2 L852.5 187.0 L853.0 186.9 L853.1 187.8 L853.2 188.7 L853.2 189.6 L853.3 190.5 L853.4 191.4 L853.5 192.2 L853.5 193.1 L853.6 194.0 L855.0 220.0 L857.0 240.0 L858.6 256.0 L860.0 258.0 L861.6 272.0 L863.6 293.0 L865.0 276.0 L865.0 275.1 L865.1 274.2 L865.1 273.3 L865.1 272.4 L865.1 271.6 L865.2 270.7 L865.2 269.8 L865.2 268.9 L865.2 268.0 L865.3 267.1 L865.3 266.2 L865.3 265.3 L865.4 264.4 L865.4 263.6 L865.4 262.7 L865.4 261.8 L865.5 260.9 L865.5 260.0 L865.5 259.1 L865.6 258.2 L865.6 257.3 L865.6 256.4 L865.6 255.6 L865.7 254.7 L865.7 253.8 L865.7 252.9 L865.8 252.0 L865.8 251.1 L865.8 250.2 L865.8 249.3 L865.9 248.4 L865.9 247.6 L865.9 246.7 L865.9 245.8 L866.0 244.9 L866.1 243.1 L866.5 243.8 L866.0 241.5 L866.5 242.2 L866.0 239.7 L866.2 240.2 L866.0 237.8 L866.3 238.4 L866.2 236.3 L866.7 236.9 L866.3 234.4 L866.3 234.7 L866.5 232.9 L866.1 233.2 L866.4 230.6 L866.9 231.6 L866.4 228.8 L867.0 229.5 L866.3 227.7 L866.7 227.8 L867.0 225.2 L867.3 226.0 L866.9 223.8 L866.8 224.4 L867.0 222.1 L867.4 222.3 L867.0 220.1 L866.9 220.4 L867.1 218.5 L867.5 219.0 L867.2 216.3 L867.3 217.1 L867.1 214.5 L867.6 215.4 L867.2 213.3 L867.7 213.9 L867.0 211.3 L867.6 212.1 L867.9 209.3 L867.4 210.3 L867.3 208.0 L867.6 208.2 L867.3 206.2 L867.7 206.6 L868.1 204.3 L867.3 204.8 L868.0 202.5 L867.9 202.8 L867.6 201.0 L867.9 201.4 L867.6 198.8 L867.9 199.3 L868.1 197.3 L868.4 197.6 L867.9 195.3 L867.7 195.5 L867.7 193.4 L867.8 193.7 L868.4 191.8 L868.4 192.3 L867.8 190.3 L868.1 190.7 L868.1 188.1 L868.1 188.4 L868.7 186.7 L868.2 187.0 L868.3 184.7 L868.8 184.8 L868.9 182.8 L868.6 183.3 L868.1 181.3 L868.9 181.9 L869.0 179.5 L868.5 180.0 L869.2 177.4 L869.2 177.9 L868.8 175.8 L868.7 176.2 L869.4 173.9 L869.4 174.2 L868.9 172.1 L869.0 172.3 L869.2 169.7 L869.1 170.6 L869.4 168.2 L869.2 168.6 L869.9 168.5 L869.4 170.4 L869.5 170.3 L869.3 172.1 L869.6 171.7 L870.0 173.8 L869.6 174.0 L869.5 176.2 L870.2 175.5 L869.6 177.9 L870.2 177.4 L870.4 179.4 L870.4 179.3 L869.8 181.3 L869.8 180.9 L869.9 183.3 L870.2 182.4 L870.0 184.8 L870.0 184.4 L869.9 187.0 L870.3 186.3 L870.6 188.4 L870.5 188.2 L870.2 190.4 L870.0 190.0 L870.8 191.9 L870.6 191.8 L870.6 193.7 L870.5 193.6 L870.2 195.6 L870.4 195.5 L870.8 195.5 L870.6 193.7 L870.9 194.3 L871.0 191.4 L870.6 191.9 L870.9 190.2 L870.7 190.4 L871.0 188.1 L870.6 188.6 L870.8 186.0 L870.6 186.8 L871.3 184.7 L871.2 185.0 L870.6 182.9 L870.8 182.8 L871.0 180.9 L870.9 180.9 L870.9 178.9 L871.2 179.7 L871.0 177.0 L871.4 177.5 L870.8 175.4 L871.5 176.0 L870.9 173.7 L871.5 174.2 L871.2 172.0 L871.7 171.8 L871.8 170.1 L871.1 170.5 L871.4 167.9 L871.8 168.7 L871.2 166.4 L871.5 167.0 L872.2 164.3 L872.8 165.5 L873.0 163.2 L873.3 163.4 L873.3 161.6 L873.0 162.3 L873.1 159.5 L873.9 160.3 L873.8 158.0 L874.0 158.7 L873.8 156.0 L874.0 156.2 L874.0 154.3 L874.1 154.5 L874.9 154.0 L874.8 156.1 L875.3 155.7 L875.5 158.2 L876.3 157.5 L876.1 159.3 L876.5 159.3 L876.5 161.4 L876.5 161.2 L876.4 163.3 L876.8 162.6 L876.4 164.7 L876.5 164.7 L876.6 166.5 L877.1 166.6 L876.7 168.6 L877.1 168.4 L877.0 170.4 L876.9 170.4 L877.7 172.7 L877.8 172.2 L877.8 174.5 L877.9 174.0 L877.7 175.9 L877.7 175.5 L878.4 178.1 L878.8 177.2 L878.5 179.6 L878.7 179.1 L879.6 180.7 L879.5 180.3 L880.1 182.4 L880.6 181.9 L880.7 184.1 L880.9 183.6 L880.6 186.0 L881.0 185.4 L881.4 187.7 L881.9 187.4 L881.3 189.4 L881.9 189.1 L882.1 191.7 L882.0 191.7 L882.1 192.6 L882.2 193.5 L882.4 194.5 L882.5 195.4 L882.6 196.3 L882.7 197.2 L882.8 198.2 L882.9 199.1 L883.0 200.0 L884.0 212.0 L885.0 228.0 L886.4 212.0 L888.0 200.0 L889.4 196.0 L891.0 204.0 L892.0 214.0 L893.6 209.0 L895.4 210.0 L897.0 220.0 L898.0 236.0 L899.0 255.0 L900.4 250.0 L902.0 238.0 L903.4 228.0" fill="none" stroke="#343437" stroke-width="2.1" stroke-linejoin="round" stroke-linecap="round"/>
<path d="M913.0 264.0 L914.4 278.0 L916.0 286.0 L917.6 266.0 L919.0 248.0 L920.0 232.0 L922.0 233.0 L923.6 240.0 L925.0 248.0 L928.0 248.0 L930.0 249.0 L931.6 236.0 L933.0 228.0 L933.1 227.1 L933.2 226.2 L933.3 225.2 L933.4 224.3 L933.5 223.4 L933.6 222.5 L933.8 221.5 L933.9 220.6 L934.0 219.7 L934.5 217.8 L934.2 218.5 L934.1 216.5 L934.0 216.7 L934.1 214.3 L934.9 214.8 L934.1 212.9 L934.3 213.0 L934.2 210.6 L935.0 211.4 L934.7 208.7 L934.9 209.2 L934.8 207.1 L934.8 207.4 L935.2 205.1 L934.7 206.0 L935.0 203.6 L935.0 203.9 L934.8 201.8 L935.2 201.9 L935.6 199.4 L935.7 200.4 L935.5 197.6 L935.0 198.6 L935.5 195.9 L935.6 196.4 L935.5 193.9 L935.4 194.8 L936.0 192.6 L935.5 192.6 L935.8 190.6 L936.1 190.9 L936.1 189.0 L936.2 189.4 L936.1 187.2 L936.0 187.4 L936.4 185.2 L936.8 185.6 L936.2 183.9 L936.4 184.2 L936.8 182.0 L936.9 182.2 L936.9 180.5 L936.6 180.7 L936.7 178.5 L937.5 178.9 L937.5 176.7 L937.0 177.4 L937.6 174.6 L937.8 175.1 L937.3 173.3 L937.8 174.0 L937.5 171.2 L937.5 172.1 L937.8 169.9 L938.0 169.5 L938.1 168.6 L938.2 167.8 L938.3 166.9 L938.4 166.0 L939.6 154.0 L940.8 142.5 L942.4 154.0 L944.0 170.0 L945.6 188.0 L947.0 200.0 L949.0 201.0 L950.4 208.0 L952.4 216.0 L954.4 218.0 L957.0 228.0 L959.0 240.0 L961.6 252.0 L963.0 262.0 L964.4 252.0 L966.0 236.0 L968.0 220.0 L969.6 216.0 L971.6 224.0 L973.6 238.0 L975.6 248.0 L977.0 255.0 L978.4 244.0 L980.0 228.0 L981.6 219.0 L983.0 226.0 L983.1 226.9 L983.2 227.8 L983.3 228.7 L983.4 229.6 L983.5 230.5 L983.6 231.4 L983.7 232.3 L983.8 233.2 L983.9 234.1 L984.1 235.3 L983.9 233.6 L984.2 234.0 L984.5 231.3 L984.5 232.3 L984.9 229.4 L984.9 229.9 L985.1 228.0 L985.2 228.5 L984.9 226.4 L985.6 226.7 L984.9 224.1 L985.0 224.8 L985.7 222.4 L985.9 222.6 L985.4 220.5 L985.6 220.9 L985.8 218.7 L985.4 219.1 L986.2 217.4 L986.0 217.4 L986.2 215.5 L985.8 215.8 L986.2 213.3 L986.5 214.2 L985.9 211.5 L986.1 212.2 L986.8 210.1 L986.1 210.8 L986.9 208.6 L986.9 209.1 L987.0 206.8 L987.6 207.7 L988.1 205.0 L988.0 205.5 L988.8 203.8 L988.2 204.2 L988.7 202.1 L989.1 202.4 L989.2 200.9 L989.4 200.0 L991.0 190.0 L992.4 178.0 L994.0 169.0 L995.6 176.0 L997.6 180.0 L999.4 188.0 L1001.0 198.0 L1003.0 208.0 L1005.0 212.0 L1007.0 214.0 L1009.0 208.0 L1011.0 204.0 L1013.0 194.0 L1015.0 180.0 L1017.0 168.0 L1019.0 158.0 L1021.0 148.0 L1022.6 142.0 L1024.0 152.0 L1025.0 170.0 L1026.0 184.0 L1026.2 184.9 L1026.3 185.9 L1026.5 186.8 L1026.6 187.7 L1026.8 188.7 L1026.9 189.6 L1027.0 189.9 L1027.3 191.8 L1027.0 191.8 L1028.0 192.2 L1027.4 190.4 L1027.7 190.7 L1028.0 188.5 L1028.3 188.7 L1028.8 186.7 L1028.1 187.6 L1028.9 185.0 L1029.1 185.8 L1029.1 183.2 L1028.9 183.6 L1029.6 181.3 L1029.5 182.2 L1029.7 179.8 L1029.5 180.2 L1029.5 177.7 L1029.7 178.3 L1029.7 176.3 L1030.4 176.2 L1030.0 174.1 L1029.9 174.3 L1030.0 172.4 L1030.7 172.3 L1030.5 170.4 L1030.5 170.9 L1030.4 168.8 L1030.7 168.8 L1031.1 166.5 L1031.0 167.5 L1031.3 164.5 L1031.1 165.0 L1031.9 163.0 L1031.9 163.3 L1032.1 161.2 L1031.9 161.3 L1031.8 159.0 L1032.4 159.2 L1032.8 158.5 L1033.2 157.8 L1033.6 157.0 L1035.0 160.0 L1036.4 152.0 L1038.0 144.0 L1040.0 136.0 L1042.0 128.0 L1045.0 121.0 L1048.0 118.4 L1049.4 122.0 L1051.0 132.0 L1052.4 142.0 L1054.0 151.0 L1056.0 160.0 L1058.0 170.0 L1059.6 180.0 L1060.6 186.0 L1062.0 178.0 L1063.6 172.0 L1065.0 168.0 L1066.4 172.0 L1068.0 178.0 L1070.0 184.0 L1072.4 186.0 L1074.4 188.0 L1076.0 189.6 L1077.6 186.0 L1079.0 178.0 L1081.0 175.0 L1083.0 177.0 L1085.0 176.0 L1087.0 174.0 L1088.4 175.0" fill="none" stroke="#343437" stroke-width="2.1" stroke-linejoin="round" stroke-linecap="round"/>
<path d="M1121.0 152.4 L1121.2 151.2 L1122.0 151.5 L1122.5 149.5 L1123.1 150.3 L1124.3 148.2 L1124.7 149.3 L1126.4 147.1 L1126.6 149.3 L1128.3 148.1 L1128.3 148.9 L1129.4 147.2 L1130.1 148.0 L1130.7 146.5 L1132.2 148.5 L1132.4 146.5 L1132.9 147.3 L1133.4 145.4 L1134.1 145.3 L1134.5 145.2 L1134.8 147.2 L1135.1 146.6 L1136.1 149.0 L1136.3 147.5 L1137.5 149.8 L1137.6 149.1 L1138.0 149.3 L1138.3 147.2 L1138.9 148.2 L1139.4 145.8 L1139.8 146.5 L1139.8 144.2 L1140.0 145.0 L1140.7 142.5 L1140.5 143.3 L1141.3 140.7 L1140.9 141.4 L1141.8 139.2 L1141.2 139.4 L1142.0 137.5 L1142.1 137.3 L1142.3 136.5 L1142.5 135.7 L1142.8 134.8 L1143.0 134.0 L1145.0 131.4 L1147.0 130.6 L1149.0 132.0" fill="none" stroke="#343437" stroke-width="2.5" stroke-linejoin="round" stroke-linecap="round"/>
<path d="M719.4 320.0 L721.0 332.0 L723.0 344.0 L725.0 353.0 L728.0 353.0 L731.0 360.0 L734.0 364.0 L737.0 364.4 L739.0 358.0 L740.6 344.0 L742.4 331.0 L744.4 337.0 L747.0 342.0 L749.0 347.0 L752.0 346.0 L754.0 340.0 L757.0 335.0 L759.6 338.0 L762.0 344.0 L765.0 352.0 L768.0 360.0 L770.0 369.0 L771.6 366.0 L773.0 352.0 L775.0 340.0 L777.6 338.0 L779.6 346.0 L782.0 358.0 L785.0 370.0 L788.0 379.0 L790.0 382.0 L793.0 378.0 L796.0 372.0 L798.0 362.0 L800.0 352.0 L802.0 343.0 L804.4 340.0 L806.4 346.0 L808.4 358.0 L810.4 368.0 L812.4 375.0 L814.4 368.0 L817.0 360.0 L819.6 356.0 L822.0 360.0 L824.4 370.0 L827.0 380.0 L830.0 388.0 L832.4 395.0 L834.4 397.0 L836.4 392.0 L838.0 384.0 L840.0 382.0 L842.4 385.0 L844.4 388.0 L846.4 386.0 L848.4 376.0 L850.4 362.0 L852.4 354.0 L854.4 355.0 L857.0 364.0 L859.0 374.0 L861.6 384.0 L864.0 389.0 L866.0 374.0 L868.0 358.0 L870.0 348.0 L872.4 342.0 L874.4 334.0 L877.0 329.4 L880.0 331.0 L882.4 338.0 L884.4 347.0 L887.0 344.0 L889.4 342.4 L892.0 345.0 L895.0 347.0 L897.0 352.0 L899.0 360.0 L901.6 363.6" fill="none" stroke="#48484a" stroke-width="2.0" stroke-linejoin="round" stroke-linecap="round"/>
<path d="M912.4 358.0 L914.0 370.0 L916.0 380.0 L918.0 378.0 L920.0 370.0 L922.0 368.0 L925.0 371.0 L928.0 373.0 L931.0 372.0 L933.0 366.0 L935.0 358.0 L937.0 348.0 L939.0 337.0 L941.0 327.0 L943.0 324.4 L945.0 328.0 L947.0 336.0 L949.0 339.0 L952.0 344.0 L955.0 350.0 L958.0 358.0 L961.0 367.0 L963.0 372.0 L965.0 371.0 L967.0 364.0 L969.0 359.0 L971.0 358.0 L973.0 362.0 L975.0 368.0 L977.6 373.0 L979.6 368.0 L981.6 362.4 L984.0 362.4 L986.0 361.0 L988.0 354.0 L990.0 349.0 L992.0 342.0 L994.0 334.0 L996.0 330.0 L998.4 330.0 L1001.0 334.0 L1003.6 340.0 L1006.0 344.0 L1009.0 345.6 L1012.0 344.0 L1014.0 340.0 L1016.0 332.0 L1018.0 324.0 L1020.0 316.0 L1021.6 309.0 L1023.2 307.0 L1024.6 312.0 L1026.0 320.0 L1027.6 324.4 L1029.4 323.0 L1031.0 317.0 L1033.0 312.0 L1035.0 310.0 L1037.0 307.0 L1039.0 302.0 L1041.0 296.0 L1043.0 290.0 L1045.6 285.0 L1048.0 283.0 L1050.0 285.0 L1052.0 290.0 L1054.0 296.0 L1056.0 302.0 L1058.0 308.0 L1060.0 312.0 L1062.0 313.0 L1064.0 311.0 L1066.0 312.0 L1068.0 315.0 L1070.0 318.0 L1072.0 320.0 L1074.0 322.0 L1076.4 323.0 L1079.0 321.0 L1081.0 318.4 L1084.0 317.6 L1087.0 317.4" fill="none" stroke="#48484a" stroke-width="2.0" stroke-linejoin="round" stroke-linecap="round"/>
<path d="M1120.0 298.0 L1124.0 297.0 L1128.0 295.0 L1132.0 293.0 L1135.0 293.6 L1138.0 293.0 L1141.0 290.0 L1144.0 287.0 L1147.0 283.6" fill="none" stroke="#48484a" stroke-width="2.0" stroke-linejoin="round" stroke-linecap="round"/>
<path d="M261.0 317.0 L263.0 321.0 L265.0 322.0 L268.0 319.0 L270.0 321.0 L272.0 325.0 L275.0 332.0 L278.0 338.0 L281.0 344.0 L284.0 350.0 L287.0 355.0 L290.0 359.0 L293.0 363.0 L296.0 366.0 L299.0 365.6 L302.0 369.0 L305.0 371.0 L309.0 370.6 L311.0 374.0 L313.6 377.0 L316.0 373.0 L318.0 366.0 L320.0 362.0 L322.4 361.6 L325.0 365.0 L327.0 367.6 L329.6 369.0 L331.6 373.0 L333.6 379.0 L336.0 386.0 L339.0 395.0 L342.0 403.0 L345.0 410.0 L348.0 416.0 L351.0 422.0 L353.6 425.6 L356.0 426.0 L358.0 423.0 L360.0 428.0 L362.4 434.0 L365.0 440.0 L367.6 445.0 L369.6 447.0 L372.0 443.0 L374.4 439.0 L377.0 435.6 L379.6 437.6 L382.0 438.0 L384.0 440.0 L386.0 448.0 L387.6 453.0 L389.4 445.0 L391.6 443.6 L393.6 448.0 L395.6 455.0 L398.0 462.0 L400.4 469.0 L403.0 475.0 L405.6 479.0 L408.0 481.0 L410.0 479.0 L412.0 472.0 L413.6 476.0 L415.0 478.0 L417.0 470.0 L419.0 463.0 L421.0 468.0 L423.0 474.0 L425.0 478.0 L427.0 474.0 L429.0 466.0 L431.0 459.0 L433.0 454.0 L435.0 460.0 L437.0 466.0 L439.0 472.0 L441.0 478.0 L443.0 483.0 L445.6 483.6 L448.0 481.0 L449.6 472.0 L451.0 460.0 L453.0 448.0 L455.0 436.0 L456.4 427.0 L458.0 425.0 L459.4 433.0 L461.0 425.0 L463.0 419.0 L465.6 416.4 L467.6 419.0 L469.6 428.0 L471.6 438.0 L473.6 449.0 L475.6 460.0 L477.6 471.0 L479.4 477.0 L481.0 470.0 L483.0 461.0 L484.6 459.0 L486.4 465.0 L488.4 468.0 L491.0 467.6 L493.6 470.0 L496.0 475.0 L499.0 479.0 L502.0 483.0 L505.0 487.0 L508.0 490.0 L511.0 492.0 L514.0 493.6 L516.4 494.6 L518.4 491.0 L520.0 480.0 L522.0 470.0 L524.4 466.0 L527.0 462.0 L529.0 456.0 L531.0 438.0 L533.0 422.0 L535.2 410.5 L536.8 409.0 L538.2 411.0 L540.0 420.0 L542.0 436.0 L544.0 450.0 L546.0 462.0 L548.0 473.0 L550.0 481.0 L552.0 472.0 L554.0 460.0 L556.4 452.4 L559.0 453.0 L561.0 456.0 L563.0 462.0 L565.0 468.0 L567.0 475.0 L569.0 482.0 L571.0 490.0 L573.0 494.4 L575.0 488.0 L577.0 476.0 L579.0 469.0 L581.4 467.0 L583.4 472.0 L585.4 482.0 L587.4 490.0 L589.4 484.0 L591.0 476.0 L592.6 474.0 L594.4 480.0 L596.4 486.0 L598.0 489.6 L599.6 480.0 L601.0 470.0 L602.6 462.0 L604.4 459.6 L606.4 460.0 L608.4 459.6 L610.0 472.0 L611.6 486.0 L613.0 490.0 L614.4 484.0 L616.0 478.0 L617.4 477.0 L619.0 484.0 L621.0 487.0 L623.0 490.0 L625.0 493.0 L627.0 496.0 L629.0 497.6 L631.0 493.0 L632.4 487.0 L634.0 488.0 L636.0 493.0 L638.0 495.0 L640.0 492.0 L641.6 493.0 L643.6 497.0 L646.0 498.4 L648.0 501.0 L649.6 502.0 L651.0 494.0 L652.4 482.0 L654.0 474.0 L656.0 473.0 L658.0 478.0 L660.0 486.0 L662.0 494.0 L664.0 499.0 L666.0 496.0 L668.0 499.0 L670.0 504.0 L672.0 505.0 L673.6 499.0 L675.0 488.0 L676.4 478.0 L678.0 468.0 L679.6 460.0 L681.6 453.0 L683.6 450.4 L686.0 453.0 L688.0 456.0 L690.0 457.0 L692.0 455.6 L694.0 456.6 L696.0 458.0 L698.0 455.0 L700.0 450.0 L702.0 446.0 L703.6 443.6 L705.6 446.0 L708.0 448.0 L711.0 450.0" fill="none" stroke="#5a5a5a" stroke-width="2.0" stroke-linejoin="round" stroke-linecap="round"/>
<path d="M718.0 453.0 L720.0 458.0 L722.0 464.0 L724.0 469.0 L726.0 473.0 L729.0 477.0 L731.6 482.0 L734.0 486.0 L736.4 487.6 L739.0 486.0 L741.0 480.0 L743.0 475.0 L745.6 473.6 L748.0 476.0 L751.0 477.4 L753.6 476.0 L756.0 473.0 L758.4 472.0 L761.0 474.0 L763.6 477.0 L766.0 482.0 L768.4 487.0 L771.0 490.4 L773.0 486.0 L775.0 480.0 L777.6 478.0 L780.0 480.0 L783.0 487.0 L786.0 494.0 L789.0 499.0 L792.0 501.0 L795.0 500.0 L797.6 495.0 L800.0 489.0 L802.4 484.0 L805.0 482.6 L807.6 485.0 L810.0 491.0 L812.4 495.0 L815.0 495.0 L817.6 492.4 L820.0 491.6 L822.4 493.0 L825.0 498.0 L827.6 503.0 L830.0 507.6 L832.4 511.6 L835.0 514.4 L837.0 513.0 L839.6 510.6 L842.0 511.6 L844.4 511.0 L847.0 511.6 L849.0 509.0 L851.0 502.0 L853.0 497.0 L855.4 495.0 L857.6 497.0 L860.0 501.0 L862.4 505.6 L864.4 508.6 L866.4 507.0 L868.0 501.0 L870.0 494.0 L872.0 488.0 L874.0 483.0 L876.4 479.0 L879.0 477.0 L881.6 477.6 L884.0 480.4 L886.0 482.4 L888.4 481.6 L891.0 481.0 L893.6 482.0 L896.0 484.0 L898.4 487.0 L900.4 490.0" fill="none" stroke="#5a5a5a" stroke-width="2.0" stroke-linejoin="round" stroke-linecap="round"/>
<path d="M911.6 488.4 L913.0 493.0 L915.0 499.0 L917.0 502.4 L919.4 500.4 L922.0 499.0 L924.4 500.0 L927.0 501.6 L929.6 502.0 L932.0 500.4 L934.0 497.0 L936.0 491.0 L938.0 485.0 L940.0 480.0 L942.4 476.4 L945.0 475.0 L947.6 476.0 L950.0 477.6 L952.4 479.6 L955.0 482.4 L957.6 486.0 L960.0 490.0 L962.4 494.0 L964.4 496.4 L966.4 496.0 L968.4 493.6 L970.4 493.0 L972.4 495.0 L975.0 498.0 L977.6 499.6 L980.0 499.0 L982.4 497.0 L985.0 495.6 L987.6 492.0 L990.0 487.0 L992.4 482.0 L995.0 477.6 L997.6 474.4 L1000.0 474.0 L1002.4 475.6 L1005.0 478.4 L1007.6 480.0 L1010.0 481.0 L1012.4 479.6 L1014.4 476.0 L1016.4 471.0 L1018.4 466.0 L1020.4 461.6 L1022.4 458.6 L1024.4 459.6 L1026.4 462.0 L1029.0 463.0 L1031.6 461.0 L1034.0 458.6 L1036.4 455.0 L1039.0 451.0 L1041.6 445.6 L1044.0 441.0 L1046.4 438.4 L1049.0 437.0 L1051.6 437.4 L1054.0 439.4 L1056.4 442.7 L1059.6 447.6 L1062.7 449.7 L1065.9 449.7 L1069.0 451.8 L1072.2 454.8 L1075.4 456.9 L1078.6 457.5 L1081.7 456.5 L1085.3 456.0" fill="none" stroke="#5a5a5a" stroke-width="2.0" stroke-linejoin="round" stroke-linecap="round"/>
<path d="M1118.3 443.4 L1122.9 442.1 L1128.2 440.8 L1133.5 439.6 L1137.7 438.5 L1141.9 436.4 L1146.1 432.8" fill="none" stroke="#5a5a5a" stroke-width="2.0" stroke-linejoin="round" stroke-linecap="round"/>
<path d="M259.6 463.0 L262.0 465.0 L265.0 465.6 L268.0 466.4 L271.0 469.0 L274.0 473.0 L277.0 477.0 L280.0 481.0 L283.0 486.0 L286.0 490.0 L289.0 493.6 L292.0 497.0 L295.0 499.6 L298.0 501.0 L301.0 503.0 L305.0 505.6 L309.0 508.4 L312.0 511.0 L315.0 511.0 L318.0 507.0 L321.0 504.6 L324.0 505.0 L327.0 506.6 L330.0 508.0 L333.0 511.0 L335.6 516.0 L338.0 522.0 L341.0 529.0 L344.0 535.0 L347.0 541.0 L350.0 546.4 L353.0 550.4 L356.0 552.4 L359.0 553.0 L361.0 556.0 L363.6 560.0 L366.0 564.0 L368.4 567.6 L371.0 569.0 L373.6 568.0 L376.0 566.6 L379.0 567.0 L381.6 568.4 L383.6 571.0 L386.0 574.4 L388.4 575.6 L391.0 574.0 L393.0 575.6 L395.0 579.6 L397.6 584.4 L400.0 589.6 L402.4 594.0 L405.0 598.0 L407.6 601.0 L410.0 602.0 L412.4 601.0 L415.0 601.6 L417.0 602.0 L419.0 597.0 L421.0 598.0 L423.0 601.0 L425.6 603.0 L428.0 602.0 L430.0 598.0 L432.0 593.6 L434.0 593.0 L436.0 596.0 L438.0 599.0 L440.4 603.0 L443.0 607.0 L445.6 609.6 L448.0 609.0 L450.0 603.0 L452.0 594.0 L454.0 586.0 L456.0 579.0 L458.4 576.0 L461.0 571.0 L463.6 567.0 L466.0 565.0 L468.4 566.0 L470.4 570.0 L472.4 576.0 L474.4 583.0 L476.4 590.0 L478.4 596.0 L480.0 598.0 L482.0 595.0 L484.0 593.0 L486.0 595.0 L488.4 598.0 L491.0 599.0 L493.6 600.0 L496.0 603.0 L499.0 606.0 L502.0 609.6 L505.0 613.0 L508.0 616.0 L511.0 618.4 L514.0 620.4 L517.0 621.0 L519.6 617.0 L522.0 612.0 L524.4 608.0 L527.0 604.0 L529.6 594.0 L531.6 584.0 L533.6 574.0 L535.6 568.0 L537.6 566.0 L539.6 568.0 L541.6 575.0 L543.6 582.0 L545.6 590.0 L547.6 597.0 L549.6 602.0 L551.6 602.4 L553.6 598.0 L555.6 593.0 L558.0 592.0 L561.0 591.6 L563.0 595.0 L565.0 599.0 L567.0 604.0 L569.0 609.0 L571.0 613.6 L573.0 617.0 L574.4 616.0 L576.4 611.0 L578.4 607.0 L580.4 605.0 L582.4 605.6 L584.4 609.0 L586.4 613.0 L588.0 614.4 L590.0 612.0 L592.0 610.0 L593.6 611.6 L595.6 614.4 L597.6 616.0 L599.6 613.0 L601.6 608.0 L603.6 603.0 L605.6 601.0 L608.0 601.0 L609.6 606.0 L611.6 612.0 L613.6 613.6 L616.0 613.0 L618.0 614.4 L620.0 617.0 L622.4 619.0 L625.0 621.6 L627.6 623.6 L629.6 624.0 L631.6 621.6 L633.6 622.4 L636.0 624.4 L638.4 625.0 L640.4 624.4 L642.4 626.0 L645.0 628.0 L647.6 629.6 L649.6 630.0 L651.2 626.0 L652.8 620.0 L654.4 616.0 L656.4 615.0 L658.4 618.0 L660.4 622.0 L662.4 625.0 L665.0 628.0 L667.6 630.0 L670.0 632.4 L672.0 633.0 L674.0 629.0 L676.0 621.0 L678.0 614.0 L680.0 607.0 L682.0 601.0 L684.0 598.4 L687.0 598.0 L690.0 597.6 L693.0 598.0 L696.0 597.6 L698.0 596.0 L700.0 593.0 L702.0 590.4 L705.0 589.6 L709.0 590.0" fill="none" stroke="#5a5a5a" stroke-width="2.0" stroke-linejoin="round" stroke-linecap="round"/>
<path d="M717.0 591.6 L719.0 593.0 L721.6 597.0 L724.0 601.0 L726.4 604.4 L729.0 608.0 L731.6 611.0 L734.0 614.0 L736.4 616.4 L738.4 617.0 L740.4 615.0 L742.4 612.4 L745.0 611.6 L748.0 612.0 L751.0 611.6 L754.0 611.0 L757.0 610.0 L759.6 610.0 L762.0 611.0 L764.4 613.0 L767.0 616.0 L769.6 619.0 L771.6 619.6 L773.6 617.0 L776.0 615.0 L778.4 615.4 L780.0 616.0 L783.0 620.0 L786.0 624.0 L789.0 627.6 L792.0 629.6 L795.0 630.0 L797.6 628.0 L800.0 625.0 L802.4 622.6 L805.0 622.0 L807.6 623.0 L810.0 625.0 L812.4 626.4 L815.0 626.4 L817.6 626.0 L820.0 626.4 L822.4 628.0 L825.0 630.4 L827.6 633.0 L830.0 635.6 L832.4 638.0 L835.0 640.0 L837.6 641.0 L840.0 641.0 L842.4 641.0 L845.0 641.6 L847.6 641.6 L850.0 639.6 L852.0 636.0 L854.4 634.0 L856.4 633.6 L858.4 635.0 L860.4 637.0 L862.4 639.0 L864.4 639.6 L866.4 638.0 L868.4 634.0 L870.4 630.0 L872.4 626.0 L874.4 623.0 L877.0 620.0 L879.6 619.0 L882.4 619.0 L885.0 619.6 L888.0 619.6 L891.0 619.6 L894.0 620.0 L897.0 621.0 L899.6 623.0" fill="none" stroke="#5a5a5a" stroke-width="2.0" stroke-linejoin="round" stroke-linecap="round"/>
<path d="M910.4 623.6 L912.4 626.4 L915.0 629.6 L917.6 631.6 L920.0 632.4 L922.4 632.4 L925.0 633.6 L927.6 634.4 L930.0 634.4 L932.4 633.0 L934.4 630.0 L936.4 626.0 L938.4 622.4 L941.0 619.6 L943.6 618.0 L946.4 617.4 L949.0 617.6 L951.6 618.6 L954.0 620.0 L956.4 622.0 L959.0 624.4 L961.6 627.0 L964.0 628.6 L966.4 629.2 L969.0 629.0 L971.6 629.0 L974.0 630.0 L976.4 631.0 L979.0 631.6 L981.6 631.6 L984.0 631.0 L986.4 629.6 L989.0 627.0 L991.6 624.0 L994.0 621.0 L996.4 618.4 L999.0 617.0 L1001.6 616.6 L1004.0 617.0 L1006.4 617.6 L1009.0 618.0 L1011.6 617.0 L1014.0 615.0 L1016.4 612.0 L1019.0 608.6 L1021.6 605.6 L1024.0 604.4 L1026.4 604.4 L1029.0 603.6 L1031.6 602.0 L1034.0 600.0 L1036.4 597.4 L1039.0 594.0 L1041.6 590.4 L1044.0 587.2 L1046.4 585.0 L1049.0 583.8 L1052.2 583.6 L1055.3 584.8 L1058.5 587.4 L1061.7 589.5 L1064.8 590.5 L1068.0 592.0 L1071.2 593.7 L1074.3 595.2 L1077.5 595.8 L1080.7 595.8 L1084.5 595.8" fill="none" stroke="#5a5a5a" stroke-width="2.0" stroke-linejoin="round" stroke-linecap="round"/>
<path d="M1116.6 587.4 L1121.9 585.3 L1127.1 583.6 L1132.4 582.1 L1137.7 580.6 L1141.9 579.3 L1145.7 577.9" fill="none" stroke="#5a5a5a" stroke-width="2.0" stroke-linejoin="round" stroke-linecap="round"/>
<path d="M258.4 611.0 L262.0 611.0 L266.0 612.0 L270.0 614.4 L274.0 618.0 L278.0 622.0 L282.0 626.0 L286.0 630.0 L290.0 634.0 L294.0 637.0 L298.0 639.6 L302.0 641.6 L306.0 644.0 L310.0 646.4 L314.0 648.4 L317.0 648.4 L320.0 647.0 L323.0 646.4 L326.0 647.0 L329.0 648.0 L332.0 650.0 L335.0 653.0 L338.0 657.6 L341.0 663.0 L344.0 668.0 L347.0 673.0 L350.0 675.0 L354.0 680.0 L358.0 684.0 L362.0 689.0 L366.0 694.4 L370.0 698.4 L374.0 699.0 L378.0 699.0 L382.0 701.0 L386.0 704.4 L390.0 707.6 L393.0 708.0 L396.0 712.0 L399.0 717.0 L402.0 721.6 L405.0 725.6 L408.0 728.6 L411.0 730.0 L414.0 730.4 L417.0 729.6 L420.0 729.6 L423.0 731.6 L426.0 732.4 L429.0 732.0 L431.6 729.6 L434.0 729.0 L436.4 730.0 L439.0 733.0 L441.6 736.0 L444.0 738.4 L446.4 739.2 L449.0 738.0 L451.0 734.0 L453.0 729.0 L455.0 724.0 L458.0 719.0 L461.0 714.4 L464.0 710.4 L467.0 708.6 L470.0 709.6 L472.4 713.0 L475.0 718.0 L477.4 723.6 L479.6 727.0 L482.0 727.6 L484.4 727.0 L487.0 728.4 L490.0 730.0 L493.0 731.6 L496.0 734.0 L499.0 737.0 L502.0 740.0 L505.0 743.0 L508.0 745.6 L511.0 748.0 L514.0 750.0 L517.0 750.6 L519.6 749.0 L522.0 746.0 L524.4 743.6 L527.0 741.0 L529.0 737.0 L531.0 731.0 L533.0 724.0 L535.0 718.0 L537.0 715.0 L539.6 714.0 L542.0 716.0 L544.4 720.0 L547.0 725.6 L549.0 731.0 L551.0 733.0 L553.6 732.4 L556.0 731.0 L559.0 730.0 L561.6 731.0 L564.0 733.6 L566.4 737.0 L569.0 741.0 L571.6 744.0 L574.0 745.6 L576.4 744.4 L579.0 742.0 L581.6 741.0 L584.0 742.4 L586.4 745.0 L589.0 746.6 L591.6 746.0 L594.0 746.4 L597.0 748.0 L599.6 748.0 L602.0 745.0 L604.4 741.6 L607.0 740.0 L609.6 741.6 L612.0 744.4 L615.0 746.4 L618.0 748.0 L621.0 750.0 L624.0 752.0 L628.0 754.4 L632.0 755.0 L636.0 756.4 L640.0 758.0 L644.0 759.6 L648.0 761.0 L651.0 760.0 L653.0 755.0 L655.6 753.0 L658.4 753.0 L661.0 756.0 L664.0 758.4 L667.0 761.0 L670.0 763.0 L672.4 764.0 L675.0 761.0 L677.0 756.0 L679.0 751.0 L681.0 746.4 L683.6 743.0 L686.4 741.0 L689.6 740.0 L693.0 738.6 L696.0 738.0 L699.0 736.0 L702.0 733.6 L705.0 732.0 L708.0 731.6" fill="none" stroke="#5a5a5a" stroke-width="2.0" stroke-linejoin="round" stroke-linecap="round"/>
<path d="M715.6 732.0 L719.0 732.4 L722.0 734.4 L725.0 737.0 L728.0 740.0 L731.0 743.0 L734.0 746.4 L737.0 749.0 L739.6 749.6 L742.4 748.4 L745.6 747.6 L749.0 747.6 L752.0 747.2 L755.0 747.0 L758.0 747.0 L761.0 747.6 L764.0 749.0 L767.0 751.0 L770.0 752.6 L772.4 753.0 L775.0 752.4 L778.0 752.0 L781.0 752.4 L784.0 754.4 L787.0 757.0 L790.0 759.6 L793.0 761.6 L795.6 762.6 L798.0 762.0 L801.0 760.0 L804.0 758.4 L807.0 758.0 L810.0 759.0 L813.0 760.0 L816.0 760.6 L819.0 761.0 L822.0 762.0 L825.0 763.6 L828.0 766.0 L831.0 768.4 L834.0 770.4 L837.0 771.6 L840.0 772.4 L843.0 773.4 L846.0 774.0 L849.0 773.0 L852.0 771.0 L855.0 769.6 L858.0 769.6 L861.0 771.0 L864.0 772.0 L867.0 771.0 L870.0 768.4 L873.0 765.0 L876.0 762.0 L879.0 760.0 L882.0 759.0 L886.0 758.4 L890.0 758.0 L894.0 757.6 L899.0 758.0" fill="none" stroke="#5a5a5a" stroke-width="2.0" stroke-linejoin="round" stroke-linecap="round"/>
<path d="M909.0 760.0 L912.0 762.4 L916.0 765.0 L920.0 767.0 L924.0 768.0 L928.0 769.0 L932.0 769.0 L935.0 767.6 L937.6 764.0 L940.0 760.6 L943.0 758.4 L946.0 757.4 L949.0 757.0 L952.0 757.2 L955.0 758.0 L958.0 759.6 L961.0 761.6 L964.0 763.0 L967.0 764.0 L970.0 764.6 L973.0 765.4 L976.0 766.4 L979.0 767.0 L982.0 767.0 L985.0 766.6 L988.0 765.4 L991.0 763.0 L994.0 760.0 L997.0 757.6 L1000.0 756.4 L1003.0 756.0 L1006.0 756.0 L1009.0 756.4 L1012.0 755.6 L1015.0 753.6 L1018.0 751.0 L1021.0 748.4 L1024.0 747.0 L1027.0 746.0 L1030.0 745.0 L1033.0 743.6 L1036.0 741.6 L1039.0 739.4 L1042.0 736.6 L1045.0 733.4 L1048.0 730.6 L1051.0 729.4 L1054.0 729.0 L1057.0 729.6 L1060.0 730.6 L1063.0 731.6 L1066.0 732.6 L1069.0 733.6 L1072.0 734.6 L1075.0 735.4 L1078.0 736.0 L1081.0 736.2 L1083.6 736.0" fill="none" stroke="#5a5a5a" stroke-width="2.0" stroke-linejoin="round" stroke-linecap="round"/>
<path d="M1116.0 731.0 L1120.0 729.6 L1124.0 728.4 L1128.0 727.4 L1132.0 726.4 L1136.0 725.4 L1140.0 724.4 L1143.6 723.4" fill="none" stroke="#5a5a5a" stroke-width="2.0" stroke-linejoin="round" stroke-linecap="round"/>
<path d="M489.0 863.6 L493.0 865.6 L497.0 868.0 L501.0 870.4 L505.0 873.0 L509.0 875.6 L513.0 878.6 L516.0 880.6 L518.5 881.0 L521.0 880.4 L524.0 878.6 L528.0 875.6 L531.0 871.0 L533.2 866.0 L535.6 861.8 L538.5 859.6 L541.0 859.0 L544.0 860.3 L546.3 862.4" fill="none" stroke="#5a5a5a" stroke-width="2.0" stroke-linejoin="round" stroke-linecap="round"/>
<path d="M633.0 888.0 L636.0 889.0 L639.0 890.0 L642.0 891.6 L645.0 893.0 L648.0 893.6 L651.0 893.0 L653.6 890.4 L656.4 889.6 L659.0 889.6 L662.0 891.0 L665.0 893.0 L668.0 895.0 L671.0 896.4 L673.0 897.0 L675.6 895.0 L678.0 891.6 L680.4 888.0 L683.0 885.0 L686.0 882.0 L689.0 880.4 L692.0 879.0 L695.0 877.6 L698.0 876.4 L701.0 875.0 L704.0 874.0 L707.6 873.0" fill="none" stroke="#5a5a5a" stroke-width="2.0" stroke-linejoin="round" stroke-linecap="round"/>
<path d="M715.0 872.4 L718.0 872.0 L721.0 872.4 L724.0 874.0 L727.0 876.0 L730.0 878.0 L733.0 880.0 L736.0 882.0 L739.0 883.6 L742.0 884.0 L746.0 884.0 L750.0 883.6 L754.0 883.4 L758.0 883.2 L762.0 883.6 L765.0 885.0 L768.0 886.4 L771.0 887.6 L774.0 888.0 L777.0 887.6 L780.0 887.6 L783.0 889.0 L786.0 891.0 L789.0 893.0 L792.0 894.4 L795.0 895.6 L798.0 895.6 L801.0 895.0 L804.0 894.4 L807.0 894.0 L810.0 894.4 L813.0 895.0 L816.0 895.6 L819.0 896.0 L822.0 897.0 L825.0 898.0 L828.0 899.6 L831.0 901.0 L834.0 903.0 L837.0 904.4 L840.0 905.6 L843.0 906.4 L846.0 907.0 L849.0 906.6 L852.0 906.0 L855.0 905.6 L858.0 905.2 L861.0 905.4 L864.0 906.0 L867.0 906.0 L870.0 905.0 L873.0 903.0 L876.0 900.6 L879.0 899.0 L882.0 898.0 L886.0 897.0 L890.0 896.4 L894.0 896.0 L898.0 895.8" fill="none" stroke="#5a5a5a" stroke-width="2.0" stroke-linejoin="round" stroke-linecap="round"/>
<path d="M908.4 898.4 L912.0 899.6 L916.0 901.0 L920.0 902.4 L924.0 903.2 L928.0 904.0 L932.0 904.4 L935.0 904.0 L938.0 902.0 L941.0 899.6 L944.0 898.0 L947.0 897.0 L950.0 896.6 L954.0 896.6 L957.0 897.4 L960.0 898.6 L963.0 899.6 L966.0 900.6 L969.0 901.4 L972.0 902.0 L975.0 902.6 L978.0 903.0 L982.0 903.2 L986.0 903.0 L989.0 902.4 L992.0 900.6 L995.0 898.4 L998.0 896.6 L1001.0 895.6 L1004.0 895.4 L1008.0 895.4 L1011.0 895.0 L1014.0 893.6 L1017.0 891.6 L1020.0 889.6 L1023.0 888.0 L1026.0 887.0 L1029.0 885.6 L1032.0 884.0 L1035.0 882.4 L1038.0 880.6 L1041.0 878.6 L1044.0 876.4 L1047.0 874.4 L1050.0 873.0 L1053.0 872.4 L1056.0 872.2 L1059.0 872.4 L1062.0 873.0 L1065.0 873.6 L1068.0 874.0 L1071.0 874.6 L1074.0 875.2 L1077.0 875.6 L1081.0 876.0" fill="none" stroke="#5a5a5a" stroke-width="2.0" stroke-linejoin="round" stroke-linecap="round"/>
<path d="M1114.0 873.0 L1118.0 871.6 L1122.0 870.4 L1126.0 869.2 L1130.0 868.2 L1134.0 867.2 L1138.0 866.4 L1142.4 865.6" fill="none" stroke="#5a5a5a" stroke-width="2.0" stroke-linejoin="round" stroke-linecap="round"/>
</g>
</g>
</svg>
</body></html>
